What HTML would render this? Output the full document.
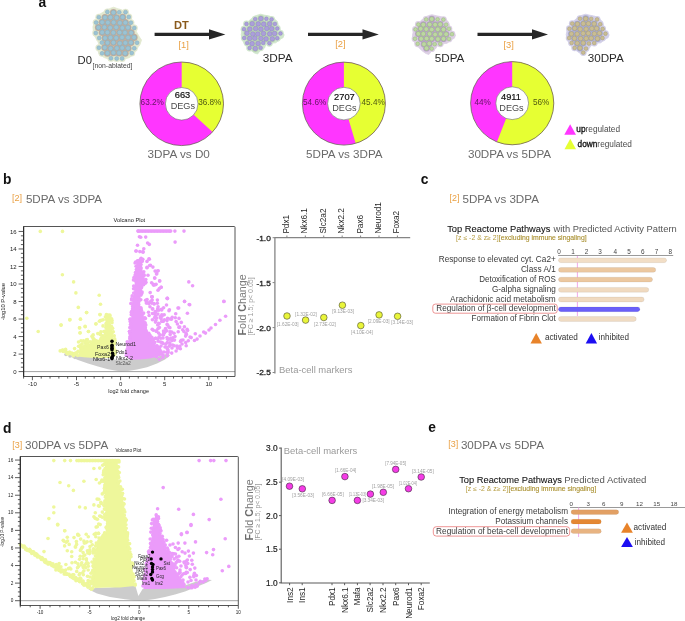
<!DOCTYPE html>
<html><head><meta charset="utf-8"><style>
html,body{margin:0;padding:0;background:#fff;}
body{width:685px;height:621px;overflow:hidden;}
svg{display:block;font-family:"Liberation Sans",sans-serif;will-change:transform;}
</style></head><body>
<svg width="685" height="621" viewBox="0 0 685 621">
<rect width="685" height="621" fill="#fff"/>
<text x="38.60" y="7.30" font-size="13.8" fill="#111" font-weight="bold" >a</text>
<polygon points="113.8,7.2 118.9,9.2 124.1,10.8 128.2,13.9 131.3,20.6 134.4,25.7 136.5,31.9 139.5,37.1 141.6,40.1 139.5,45.3 136.5,49.4 133.4,54.6 129.2,57.7 122.0,59.7 116.9,60.2 110.7,59.7 104.5,57.7 99.3,54.6 97.8,50.5 99.3,45.3 97.3,40.1 93.7,35.0 92.9,26.7 95.2,20.6 99.3,14.4 105.5,10.8 110.7,8.2" fill="#e2e8cf" stroke="#e2e8cf" stroke-width="0.8" stroke-linejoin="round"/>
<g fill="#e2e8cf">
<circle cx="107.38" cy="11.92" r="3.50"/>
<circle cx="113.43" cy="12.55" r="3.85"/>
<circle cx="119.21" cy="12.34" r="3.50"/>
<circle cx="125.52" cy="12.15" r="3.50"/>
<circle cx="98.81" cy="17.19" r="3.50"/>
<circle cx="105.01" cy="17.55" r="3.85"/>
<circle cx="110.42" cy="17.44" r="3.85"/>
<circle cx="116.57" cy="17.71" r="3.85"/>
<circle cx="122.65" cy="17.18" r="3.85"/>
<circle cx="128.78" cy="17.03" r="3.50"/>
<circle cx="96.14" cy="22.55" r="3.50"/>
<circle cx="102.14" cy="22.32" r="3.85"/>
<circle cx="107.87" cy="22.57" r="3.85"/>
<circle cx="113.67" cy="22.44" r="3.85"/>
<circle cx="119.80" cy="22.88" r="3.85"/>
<circle cx="125.38" cy="22.63" r="3.85"/>
<circle cx="130.90" cy="22.66" r="3.50"/>
<circle cx="98.42" cy="27.56" r="3.85"/>
<circle cx="104.45" cy="27.25" r="3.85"/>
<circle cx="110.25" cy="27.83" r="3.85"/>
<circle cx="116.21" cy="27.37" r="3.85"/>
<circle cx="122.35" cy="27.93" r="3.85"/>
<circle cx="127.97" cy="27.55" r="3.85"/>
<circle cx="134.29" cy="27.94" r="3.50"/>
<circle cx="95.77" cy="33.05" r="3.50"/>
<circle cx="102.21" cy="32.39" r="3.85"/>
<circle cx="107.41" cy="32.46" r="3.85"/>
<circle cx="113.36" cy="32.69" r="3.85"/>
<circle cx="119.58" cy="32.49" r="3.85"/>
<circle cx="124.95" cy="32.63" r="3.85"/>
<circle cx="131.18" cy="32.76" r="3.85"/>
<circle cx="99.21" cy="38.06" r="3.50"/>
<circle cx="105.09" cy="38.08" r="3.85"/>
<circle cx="110.55" cy="37.72" r="3.85"/>
<circle cx="116.19" cy="37.93" r="3.85"/>
<circle cx="122.05" cy="37.42" r="3.85"/>
<circle cx="128.09" cy="37.51" r="3.85"/>
<circle cx="134.10" cy="37.41" r="3.85"/>
<circle cx="101.90" cy="42.60" r="3.50"/>
<circle cx="107.48" cy="42.78" r="3.85"/>
<circle cx="113.48" cy="42.58" r="3.85"/>
<circle cx="119.81" cy="43.36" r="3.85"/>
<circle cx="125.37" cy="42.91" r="3.85"/>
<circle cx="130.93" cy="42.56" r="3.85"/>
<circle cx="137.06" cy="42.71" r="3.50"/>
<circle cx="98.87" cy="47.71" r="3.50"/>
<circle cx="104.79" cy="47.60" r="3.85"/>
<circle cx="110.67" cy="48.46" r="3.85"/>
<circle cx="116.88" cy="48.21" r="3.85"/>
<circle cx="122.23" cy="47.91" r="3.85"/>
<circle cx="128.05" cy="48.27" r="3.85"/>
<circle cx="134.28" cy="48.28" r="3.50"/>
<circle cx="102.08" cy="53.36" r="3.50"/>
<circle cx="107.45" cy="53.16" r="3.85"/>
<circle cx="113.47" cy="52.72" r="3.85"/>
<circle cx="119.07" cy="52.94" r="3.85"/>
<circle cx="125.18" cy="53.31" r="3.85"/>
<circle cx="131.71" cy="53.09" r="3.50"/>
<circle cx="110.95" cy="58.23" r="3.50"/>
<circle cx="116.69" cy="58.52" r="3.50"/>
<circle cx="122.07" cy="58.39" r="3.50"/>
</g>
<g fill="#c0ae9e">
<circle cx="113.43" cy="12.55" r="3.54"/>
<circle cx="105.01" cy="17.55" r="3.54"/>
<circle cx="110.42" cy="17.44" r="3.54"/>
<circle cx="116.57" cy="17.71" r="3.54"/>
<circle cx="122.65" cy="17.18" r="3.54"/>
<circle cx="102.14" cy="22.32" r="3.54"/>
<circle cx="107.87" cy="22.57" r="3.54"/>
<circle cx="113.67" cy="22.44" r="3.54"/>
<circle cx="119.80" cy="22.88" r="3.54"/>
<circle cx="125.38" cy="22.63" r="3.54"/>
<circle cx="98.42" cy="27.56" r="3.54"/>
<circle cx="104.45" cy="27.25" r="3.54"/>
<circle cx="110.25" cy="27.83" r="3.54"/>
<circle cx="116.21" cy="27.37" r="3.54"/>
<circle cx="122.35" cy="27.93" r="3.54"/>
<circle cx="127.97" cy="27.55" r="3.54"/>
<circle cx="102.21" cy="32.39" r="3.54"/>
<circle cx="107.41" cy="32.46" r="3.54"/>
<circle cx="113.36" cy="32.69" r="3.54"/>
<circle cx="119.58" cy="32.49" r="3.54"/>
<circle cx="124.95" cy="32.63" r="3.54"/>
<circle cx="131.18" cy="32.76" r="3.54"/>
<circle cx="105.09" cy="38.08" r="3.54"/>
<circle cx="110.55" cy="37.72" r="3.54"/>
<circle cx="116.19" cy="37.93" r="3.54"/>
<circle cx="122.05" cy="37.42" r="3.54"/>
<circle cx="128.09" cy="37.51" r="3.54"/>
<circle cx="134.10" cy="37.41" r="3.54"/>
<circle cx="107.48" cy="42.78" r="3.54"/>
<circle cx="113.48" cy="42.58" r="3.54"/>
<circle cx="119.81" cy="43.36" r="3.54"/>
<circle cx="125.37" cy="42.91" r="3.54"/>
<circle cx="130.93" cy="42.56" r="3.54"/>
<circle cx="104.79" cy="47.60" r="3.54"/>
<circle cx="110.67" cy="48.46" r="3.54"/>
<circle cx="116.88" cy="48.21" r="3.54"/>
<circle cx="122.23" cy="47.91" r="3.54"/>
<circle cx="128.05" cy="48.27" r="3.54"/>
<circle cx="107.45" cy="53.16" r="3.54"/>
<circle cx="113.47" cy="52.72" r="3.54"/>
<circle cx="119.07" cy="52.94" r="3.54"/>
<circle cx="125.18" cy="53.31" r="3.54"/>
</g>
<g fill="#9ac3d4" stroke="#86aabb" stroke-width="0.45">
<circle cx="107.38" cy="11.92" r="2.00"/>
<circle cx="113.43" cy="12.55" r="2.35"/>
<circle cx="119.21" cy="12.34" r="2.00"/>
<circle cx="125.52" cy="12.15" r="2.00"/>
<circle cx="98.81" cy="17.19" r="2.00"/>
<circle cx="105.01" cy="17.55" r="2.35"/>
<circle cx="110.42" cy="17.44" r="2.35"/>
<circle cx="116.57" cy="17.71" r="2.35"/>
<circle cx="122.65" cy="17.18" r="2.35"/>
<circle cx="128.78" cy="17.03" r="2.00"/>
<circle cx="96.14" cy="22.55" r="2.00"/>
<circle cx="102.14" cy="22.32" r="2.35"/>
<circle cx="107.87" cy="22.57" r="2.35"/>
<circle cx="113.67" cy="22.44" r="2.35"/>
<circle cx="119.80" cy="22.88" r="2.35"/>
<circle cx="125.38" cy="22.63" r="2.35"/>
<circle cx="130.90" cy="22.66" r="2.00"/>
<circle cx="98.42" cy="27.56" r="2.35"/>
<circle cx="104.45" cy="27.25" r="2.35"/>
<circle cx="110.25" cy="27.83" r="2.35"/>
<circle cx="116.21" cy="27.37" r="2.35"/>
<circle cx="122.35" cy="27.93" r="2.35"/>
<circle cx="127.97" cy="27.55" r="2.35"/>
<circle cx="134.29" cy="27.94" r="2.00"/>
<circle cx="95.77" cy="33.05" r="2.00"/>
<circle cx="102.21" cy="32.39" r="2.35"/>
<circle cx="107.41" cy="32.46" r="2.35"/>
<circle cx="113.36" cy="32.69" r="2.35"/>
<circle cx="119.58" cy="32.49" r="2.35"/>
<circle cx="124.95" cy="32.63" r="2.35"/>
<circle cx="131.18" cy="32.76" r="2.35"/>
<circle cx="99.21" cy="38.06" r="2.00"/>
<circle cx="105.09" cy="38.08" r="2.35"/>
<circle cx="110.55" cy="37.72" r="2.35"/>
<circle cx="116.19" cy="37.93" r="2.35"/>
<circle cx="122.05" cy="37.42" r="2.35"/>
<circle cx="128.09" cy="37.51" r="2.35"/>
<circle cx="134.10" cy="37.41" r="2.35"/>
<circle cx="101.90" cy="42.60" r="2.00"/>
<circle cx="107.48" cy="42.78" r="2.35"/>
<circle cx="113.48" cy="42.58" r="2.35"/>
<circle cx="119.81" cy="43.36" r="2.35"/>
<circle cx="125.37" cy="42.91" r="2.35"/>
<circle cx="130.93" cy="42.56" r="2.35"/>
<circle cx="137.06" cy="42.71" r="2.00"/>
<circle cx="98.87" cy="47.71" r="2.00"/>
<circle cx="104.79" cy="47.60" r="2.35"/>
<circle cx="110.67" cy="48.46" r="2.35"/>
<circle cx="116.88" cy="48.21" r="2.35"/>
<circle cx="122.23" cy="47.91" r="2.35"/>
<circle cx="128.05" cy="48.27" r="2.35"/>
<circle cx="134.28" cy="48.28" r="2.00"/>
<circle cx="102.08" cy="53.36" r="2.00"/>
<circle cx="107.45" cy="53.16" r="2.35"/>
<circle cx="113.47" cy="52.72" r="2.35"/>
<circle cx="119.07" cy="52.94" r="2.35"/>
<circle cx="125.18" cy="53.31" r="2.35"/>
<circle cx="131.71" cy="53.09" r="2.00"/>
<circle cx="110.95" cy="58.23" r="2.00"/>
<circle cx="116.69" cy="58.52" r="2.00"/>
<circle cx="122.07" cy="58.39" r="2.00"/>
</g>
<polygon points="260.7,14.2 264.7,15.2 269.9,16.2 273.9,18.3 277.0,21.3 278.5,26.5 281.1,31.6 284.2,34.6 283.1,37.7 279.0,39.7 276.0,42.8 270.9,43.3 265.8,44.3 264.7,47.9 260.7,50.0 257.6,54.0 254.5,53.0 250.4,50.0 247.4,46.9 244.3,43.8 242.3,39.7 241.2,34.6 242.3,29.5 245.3,24.4 249.4,20.3 254.5,16.2 258.6,14.7" fill="#d0e6cc" stroke="#d0e6cc" stroke-width="0.8" stroke-linejoin="round"/>
<g fill="#d0e6cc">
<circle cx="255.24" cy="19.08" r="3.40"/>
<circle cx="260.86" cy="18.61" r="3.80"/>
<circle cx="266.39" cy="18.76" r="3.40"/>
<circle cx="271.59" cy="19.32" r="3.40"/>
<circle cx="246.49" cy="23.95" r="3.40"/>
<circle cx="252.21" cy="23.70" r="3.80"/>
<circle cx="258.29" cy="23.90" r="3.80"/>
<circle cx="263.70" cy="24.13" r="3.80"/>
<circle cx="269.61" cy="23.84" r="3.80"/>
<circle cx="274.94" cy="23.90" r="3.40"/>
<circle cx="244.02" cy="29.14" r="3.40"/>
<circle cx="249.82" cy="29.08" r="3.80"/>
<circle cx="255.64" cy="28.53" r="3.80"/>
<circle cx="260.89" cy="29.14" r="3.80"/>
<circle cx="266.75" cy="28.42" r="3.80"/>
<circle cx="271.70" cy="28.69" r="3.80"/>
<circle cx="277.26" cy="28.51" r="3.40"/>
<circle cx="246.98" cy="33.27" r="3.80"/>
<circle cx="252.79" cy="34.02" r="3.80"/>
<circle cx="257.79" cy="34.00" r="3.80"/>
<circle cx="263.55" cy="33.58" r="3.80"/>
<circle cx="269.68" cy="33.89" r="3.80"/>
<circle cx="274.54" cy="33.53" r="3.80"/>
<circle cx="280.45" cy="33.45" r="3.40"/>
<circle cx="244.24" cy="38.01" r="3.40"/>
<circle cx="249.69" cy="38.39" r="3.80"/>
<circle cx="254.81" cy="38.29" r="3.80"/>
<circle cx="260.95" cy="38.46" r="3.80"/>
<circle cx="266.05" cy="38.88" r="3.80"/>
<circle cx="272.30" cy="38.87" r="3.80"/>
<circle cx="277.28" cy="38.23" r="3.40"/>
<circle cx="247.13" cy="43.08" r="3.40"/>
<circle cx="252.12" cy="43.67" r="3.80"/>
<circle cx="258.10" cy="43.47" r="3.80"/>
<circle cx="263.27" cy="42.90" r="3.40"/>
<circle cx="269.41" cy="43.23" r="3.40"/>
<circle cx="249.60" cy="48.00" r="3.40"/>
<circle cx="255.29" cy="48.53" r="3.80"/>
<circle cx="260.63" cy="47.81" r="3.40"/>
</g>
<g fill="#b8d2b2">
<circle cx="260.86" cy="18.61" r="3.36"/>
<circle cx="252.21" cy="23.70" r="3.36"/>
<circle cx="258.29" cy="23.90" r="3.36"/>
<circle cx="263.70" cy="24.13" r="3.36"/>
<circle cx="269.61" cy="23.84" r="3.36"/>
<circle cx="249.82" cy="29.08" r="3.36"/>
<circle cx="255.64" cy="28.53" r="3.36"/>
<circle cx="260.89" cy="29.14" r="3.36"/>
<circle cx="266.75" cy="28.42" r="3.36"/>
<circle cx="271.70" cy="28.69" r="3.36"/>
<circle cx="246.98" cy="33.27" r="3.36"/>
<circle cx="252.79" cy="34.02" r="3.36"/>
<circle cx="257.79" cy="34.00" r="3.36"/>
<circle cx="263.55" cy="33.58" r="3.36"/>
<circle cx="269.68" cy="33.89" r="3.36"/>
<circle cx="274.54" cy="33.53" r="3.36"/>
<circle cx="249.69" cy="38.39" r="3.36"/>
<circle cx="254.81" cy="38.29" r="3.36"/>
<circle cx="260.95" cy="38.46" r="3.36"/>
<circle cx="266.05" cy="38.88" r="3.36"/>
<circle cx="272.30" cy="38.87" r="3.36"/>
<circle cx="252.12" cy="43.67" r="3.36"/>
<circle cx="258.10" cy="43.47" r="3.36"/>
<circle cx="255.29" cy="48.53" r="3.36"/>
</g>
<g fill="#ab9edb" stroke="#8e82c2" stroke-width="0.45">
<circle cx="255.24" cy="19.08" r="1.90"/>
<circle cx="260.86" cy="18.61" r="2.30"/>
<circle cx="266.39" cy="18.76" r="1.90"/>
<circle cx="271.59" cy="19.32" r="1.90"/>
<circle cx="246.49" cy="23.95" r="1.90"/>
<circle cx="252.21" cy="23.70" r="2.30"/>
<circle cx="258.29" cy="23.90" r="2.30"/>
<circle cx="263.70" cy="24.13" r="2.30"/>
<circle cx="269.61" cy="23.84" r="2.30"/>
<circle cx="274.94" cy="23.90" r="1.90"/>
<circle cx="244.02" cy="29.14" r="1.90"/>
<circle cx="249.82" cy="29.08" r="2.30"/>
<circle cx="255.64" cy="28.53" r="2.30"/>
<circle cx="260.89" cy="29.14" r="2.30"/>
<circle cx="266.75" cy="28.42" r="2.30"/>
<circle cx="271.70" cy="28.69" r="2.30"/>
<circle cx="277.26" cy="28.51" r="1.90"/>
<circle cx="246.98" cy="33.27" r="2.30"/>
<circle cx="252.79" cy="34.02" r="2.30"/>
<circle cx="257.79" cy="34.00" r="2.30"/>
<circle cx="263.55" cy="33.58" r="2.30"/>
<circle cx="269.68" cy="33.89" r="2.30"/>
<circle cx="274.54" cy="33.53" r="2.30"/>
<circle cx="280.45" cy="33.45" r="1.90"/>
<circle cx="244.24" cy="38.01" r="1.90"/>
<circle cx="249.69" cy="38.39" r="2.30"/>
<circle cx="254.81" cy="38.29" r="2.30"/>
<circle cx="260.95" cy="38.46" r="2.30"/>
<circle cx="266.05" cy="38.88" r="2.30"/>
<circle cx="272.30" cy="38.87" r="2.30"/>
<circle cx="277.28" cy="38.23" r="1.90"/>
<circle cx="247.13" cy="43.08" r="1.90"/>
<circle cx="252.12" cy="43.67" r="2.30"/>
<circle cx="258.10" cy="43.47" r="2.30"/>
<circle cx="263.27" cy="42.90" r="1.90"/>
<circle cx="269.41" cy="43.23" r="1.90"/>
<circle cx="249.60" cy="48.00" r="1.90"/>
<circle cx="255.29" cy="48.53" r="2.30"/>
<circle cx="260.63" cy="47.81" r="1.90"/>
</g>
<polygon points="432.0,14.7 436.0,15.7 441.2,16.7 445.2,18.8 448.3,21.8 449.8,27.0 452.4,32.1 455.5,35.1 454.4,38.2 450.3,40.2 447.3,43.3 442.2,43.8 437.1,44.8 436.0,48.4 432.0,50.5 428.9,54.5 425.8,53.5 421.7,50.5 418.7,47.4 415.6,44.3 413.6,40.2 412.5,35.1 413.6,30.0 416.6,24.9 420.7,20.8 425.8,16.7 429.9,15.2" fill="#dccfe4" stroke="#dccfe4" stroke-width="0.8" stroke-linejoin="round"/>
<g fill="#dccfe4">
<circle cx="426.17" cy="19.46" r="3.40"/>
<circle cx="431.73" cy="19.12" r="3.80"/>
<circle cx="437.56" cy="19.31" r="3.40"/>
<circle cx="443.42" cy="19.57" r="3.40"/>
<circle cx="418.34" cy="24.52" r="3.40"/>
<circle cx="423.33" cy="24.70" r="3.80"/>
<circle cx="429.69" cy="24.51" r="3.80"/>
<circle cx="435.15" cy="24.68" r="3.80"/>
<circle cx="440.22" cy="24.42" r="3.80"/>
<circle cx="446.14" cy="24.70" r="3.40"/>
<circle cx="415.51" cy="29.42" r="3.40"/>
<circle cx="420.70" cy="28.82" r="3.80"/>
<circle cx="426.21" cy="29.12" r="3.80"/>
<circle cx="431.78" cy="29.55" r="3.80"/>
<circle cx="437.79" cy="29.36" r="3.80"/>
<circle cx="443.45" cy="29.41" r="3.80"/>
<circle cx="448.93" cy="28.80" r="3.40"/>
<circle cx="418.35" cy="33.87" r="3.80"/>
<circle cx="423.36" cy="33.88" r="3.80"/>
<circle cx="429.55" cy="33.83" r="3.80"/>
<circle cx="435.16" cy="34.52" r="3.80"/>
<circle cx="440.54" cy="33.99" r="3.80"/>
<circle cx="446.12" cy="34.26" r="3.80"/>
<circle cx="451.98" cy="34.20" r="3.40"/>
<circle cx="415.02" cy="38.72" r="3.40"/>
<circle cx="421.16" cy="38.77" r="3.80"/>
<circle cx="426.60" cy="38.51" r="3.80"/>
<circle cx="431.75" cy="38.74" r="3.80"/>
<circle cx="437.90" cy="39.12" r="3.80"/>
<circle cx="443.50" cy="38.76" r="3.80"/>
<circle cx="448.96" cy="38.91" r="3.40"/>
<circle cx="417.71" cy="43.76" r="3.40"/>
<circle cx="424.03" cy="44.22" r="3.80"/>
<circle cx="429.30" cy="43.59" r="3.80"/>
<circle cx="434.68" cy="44.20" r="3.40"/>
<circle cx="440.28" cy="43.87" r="3.40"/>
<circle cx="426.53" cy="48.22" r="3.80"/>
<circle cx="431.69" cy="48.64" r="3.40"/>
</g>
<g fill="#b9a3c9">
<circle cx="431.73" cy="19.12" r="3.36"/>
<circle cx="423.33" cy="24.70" r="3.36"/>
<circle cx="429.69" cy="24.51" r="3.36"/>
<circle cx="435.15" cy="24.68" r="3.36"/>
<circle cx="440.22" cy="24.42" r="3.36"/>
<circle cx="420.70" cy="28.82" r="3.36"/>
<circle cx="426.21" cy="29.12" r="3.36"/>
<circle cx="431.78" cy="29.55" r="3.36"/>
<circle cx="437.79" cy="29.36" r="3.36"/>
<circle cx="443.45" cy="29.41" r="3.36"/>
<circle cx="418.35" cy="33.87" r="3.36"/>
<circle cx="423.36" cy="33.88" r="3.36"/>
<circle cx="429.55" cy="33.83" r="3.36"/>
<circle cx="435.16" cy="34.52" r="3.36"/>
<circle cx="440.54" cy="33.99" r="3.36"/>
<circle cx="446.12" cy="34.26" r="3.36"/>
<circle cx="421.16" cy="38.77" r="3.36"/>
<circle cx="426.60" cy="38.51" r="3.36"/>
<circle cx="431.75" cy="38.74" r="3.36"/>
<circle cx="437.90" cy="39.12" r="3.36"/>
<circle cx="443.50" cy="38.76" r="3.36"/>
<circle cx="424.03" cy="44.22" r="3.36"/>
<circle cx="429.30" cy="43.59" r="3.36"/>
<circle cx="426.53" cy="48.22" r="3.36"/>
</g>
<g fill="#bcd8a0" stroke="#93b07e" stroke-width="0.45">
<circle cx="426.17" cy="19.46" r="1.90"/>
<circle cx="431.73" cy="19.12" r="2.30"/>
<circle cx="437.56" cy="19.31" r="1.90"/>
<circle cx="443.42" cy="19.57" r="1.90"/>
<circle cx="418.34" cy="24.52" r="1.90"/>
<circle cx="423.33" cy="24.70" r="2.30"/>
<circle cx="429.69" cy="24.51" r="2.30"/>
<circle cx="435.15" cy="24.68" r="2.30"/>
<circle cx="440.22" cy="24.42" r="2.30"/>
<circle cx="446.14" cy="24.70" r="1.90"/>
<circle cx="415.51" cy="29.42" r="1.90"/>
<circle cx="420.70" cy="28.82" r="2.30"/>
<circle cx="426.21" cy="29.12" r="2.30"/>
<circle cx="431.78" cy="29.55" r="2.30"/>
<circle cx="437.79" cy="29.36" r="2.30"/>
<circle cx="443.45" cy="29.41" r="2.30"/>
<circle cx="448.93" cy="28.80" r="1.90"/>
<circle cx="418.35" cy="33.87" r="2.30"/>
<circle cx="423.36" cy="33.88" r="2.30"/>
<circle cx="429.55" cy="33.83" r="2.30"/>
<circle cx="435.16" cy="34.52" r="2.30"/>
<circle cx="440.54" cy="33.99" r="2.30"/>
<circle cx="446.12" cy="34.26" r="2.30"/>
<circle cx="451.98" cy="34.20" r="1.90"/>
<circle cx="415.02" cy="38.72" r="1.90"/>
<circle cx="421.16" cy="38.77" r="2.30"/>
<circle cx="426.60" cy="38.51" r="2.30"/>
<circle cx="431.75" cy="38.74" r="2.30"/>
<circle cx="437.90" cy="39.12" r="2.30"/>
<circle cx="443.50" cy="38.76" r="2.30"/>
<circle cx="448.96" cy="38.91" r="1.90"/>
<circle cx="417.71" cy="43.76" r="1.90"/>
<circle cx="424.03" cy="44.22" r="2.30"/>
<circle cx="429.30" cy="43.59" r="2.30"/>
<circle cx="434.68" cy="44.20" r="1.90"/>
<circle cx="440.28" cy="43.87" r="1.90"/>
<circle cx="426.53" cy="48.22" r="2.30"/>
<circle cx="431.69" cy="48.64" r="1.90"/>
</g>
<polygon points="585.7,14.2 589.7,15.2 594.9,16.2 598.9,18.3 602.0,21.3 603.5,26.5 606.1,31.6 609.2,34.6 608.1,37.7 604.0,39.7 601.0,42.8 595.9,43.3 590.8,44.3 589.7,47.9 585.7,50.0 582.6,54.0 579.5,53.0 575.4,50.0 572.4,46.9 569.3,43.8 567.3,39.7 566.2,34.6 567.3,29.5 570.3,24.4 574.4,20.3 579.5,16.2 583.6,14.7" fill="#d2cfe8" stroke="#d2cfe8" stroke-width="0.8" stroke-linejoin="round"/>
<g fill="#d2cfe8">
<circle cx="579.96" cy="18.68" r="3.40"/>
<circle cx="585.70" cy="18.68" r="3.80"/>
<circle cx="591.21" cy="18.83" r="3.40"/>
<circle cx="597.10" cy="19.39" r="3.40"/>
<circle cx="572.26" cy="23.56" r="3.40"/>
<circle cx="577.44" cy="24.01" r="3.80"/>
<circle cx="583.37" cy="23.64" r="3.80"/>
<circle cx="588.43" cy="23.67" r="3.80"/>
<circle cx="594.15" cy="23.85" r="3.80"/>
<circle cx="600.25" cy="24.21" r="3.40"/>
<circle cx="569.40" cy="28.72" r="3.40"/>
<circle cx="574.72" cy="28.30" r="3.80"/>
<circle cx="580.14" cy="29.13" r="3.80"/>
<circle cx="586.13" cy="29.07" r="3.80"/>
<circle cx="591.87" cy="28.52" r="3.80"/>
<circle cx="596.69" cy="28.43" r="3.80"/>
<circle cx="602.66" cy="28.91" r="3.40"/>
<circle cx="571.43" cy="33.85" r="3.80"/>
<circle cx="577.20" cy="33.97" r="3.80"/>
<circle cx="583.17" cy="33.42" r="3.80"/>
<circle cx="588.31" cy="33.37" r="3.80"/>
<circle cx="594.36" cy="33.77" r="3.80"/>
<circle cx="599.49" cy="33.21" r="3.80"/>
<circle cx="605.46" cy="33.67" r="3.40"/>
<circle cx="569.13" cy="38.00" r="3.40"/>
<circle cx="574.46" cy="38.41" r="3.80"/>
<circle cx="580.65" cy="38.57" r="3.80"/>
<circle cx="586.19" cy="38.42" r="3.80"/>
<circle cx="591.20" cy="38.22" r="3.80"/>
<circle cx="597.46" cy="38.63" r="3.80"/>
<circle cx="602.47" cy="38.01" r="3.40"/>
<circle cx="571.59" cy="42.88" r="3.40"/>
<circle cx="577.29" cy="43.22" r="3.80"/>
<circle cx="583.20" cy="43.02" r="3.80"/>
<circle cx="588.91" cy="43.51" r="3.40"/>
<circle cx="594.24" cy="43.03" r="3.40"/>
<circle cx="574.64" cy="47.86" r="3.40"/>
<circle cx="579.99" cy="48.07" r="3.80"/>
<circle cx="585.99" cy="48.55" r="3.40"/>
<circle cx="583.26" cy="52.57" r="3.40"/>
</g>
<g fill="#a9acd0">
<circle cx="585.70" cy="18.68" r="3.36"/>
<circle cx="577.44" cy="24.01" r="3.36"/>
<circle cx="583.37" cy="23.64" r="3.36"/>
<circle cx="588.43" cy="23.67" r="3.36"/>
<circle cx="594.15" cy="23.85" r="3.36"/>
<circle cx="574.72" cy="28.30" r="3.36"/>
<circle cx="580.14" cy="29.13" r="3.36"/>
<circle cx="586.13" cy="29.07" r="3.36"/>
<circle cx="591.87" cy="28.52" r="3.36"/>
<circle cx="596.69" cy="28.43" r="3.36"/>
<circle cx="571.43" cy="33.85" r="3.36"/>
<circle cx="577.20" cy="33.97" r="3.36"/>
<circle cx="583.17" cy="33.42" r="3.36"/>
<circle cx="588.31" cy="33.37" r="3.36"/>
<circle cx="594.36" cy="33.77" r="3.36"/>
<circle cx="599.49" cy="33.21" r="3.36"/>
<circle cx="574.46" cy="38.41" r="3.36"/>
<circle cx="580.65" cy="38.57" r="3.36"/>
<circle cx="586.19" cy="38.42" r="3.36"/>
<circle cx="591.20" cy="38.22" r="3.36"/>
<circle cx="597.46" cy="38.63" r="3.36"/>
<circle cx="577.29" cy="43.22" r="3.36"/>
<circle cx="583.20" cy="43.02" r="3.36"/>
<circle cx="579.99" cy="48.07" r="3.36"/>
</g>
<g fill="#c9bd92" stroke="#a39870" stroke-width="0.45">
<circle cx="579.96" cy="18.68" r="1.90"/>
<circle cx="585.70" cy="18.68" r="2.30"/>
<circle cx="591.21" cy="18.83" r="1.90"/>
<circle cx="597.10" cy="19.39" r="1.90"/>
<circle cx="572.26" cy="23.56" r="1.90"/>
<circle cx="577.44" cy="24.01" r="2.30"/>
<circle cx="583.37" cy="23.64" r="2.30"/>
<circle cx="588.43" cy="23.67" r="2.30"/>
<circle cx="594.15" cy="23.85" r="2.30"/>
<circle cx="600.25" cy="24.21" r="1.90"/>
<circle cx="569.40" cy="28.72" r="1.90"/>
<circle cx="574.72" cy="28.30" r="2.30"/>
<circle cx="580.14" cy="29.13" r="2.30"/>
<circle cx="586.13" cy="29.07" r="2.30"/>
<circle cx="591.87" cy="28.52" r="2.30"/>
<circle cx="596.69" cy="28.43" r="2.30"/>
<circle cx="602.66" cy="28.91" r="1.90"/>
<circle cx="571.43" cy="33.85" r="2.30"/>
<circle cx="577.20" cy="33.97" r="2.30"/>
<circle cx="583.17" cy="33.42" r="2.30"/>
<circle cx="588.31" cy="33.37" r="2.30"/>
<circle cx="594.36" cy="33.77" r="2.30"/>
<circle cx="599.49" cy="33.21" r="2.30"/>
<circle cx="605.46" cy="33.67" r="1.90"/>
<circle cx="569.13" cy="38.00" r="1.90"/>
<circle cx="574.46" cy="38.41" r="2.30"/>
<circle cx="580.65" cy="38.57" r="2.30"/>
<circle cx="586.19" cy="38.42" r="2.30"/>
<circle cx="591.20" cy="38.22" r="2.30"/>
<circle cx="597.46" cy="38.63" r="2.30"/>
<circle cx="602.47" cy="38.01" r="1.90"/>
<circle cx="571.59" cy="42.88" r="1.90"/>
<circle cx="577.29" cy="43.22" r="2.30"/>
<circle cx="583.20" cy="43.02" r="2.30"/>
<circle cx="588.91" cy="43.51" r="1.90"/>
<circle cx="594.24" cy="43.03" r="1.90"/>
<circle cx="574.64" cy="47.86" r="1.90"/>
<circle cx="579.99" cy="48.07" r="2.30"/>
<circle cx="585.99" cy="48.55" r="1.90"/>
<circle cx="583.26" cy="52.57" r="1.90"/>
</g>
<text x="77.60" y="64.00" font-size="11.3" fill="#2a2a2a" textLength="14.4" lengthAdjust="spacingAndGlyphs" >D0</text>
<text x="92.60" y="67.60" font-size="6.8" fill="#444" textLength="39.8" lengthAdjust="spacingAndGlyphs" >[non-ablated]</text>
<text x="262.80" y="62.40" font-size="11.25" fill="#2a2a2a" textLength="29.9" lengthAdjust="spacingAndGlyphs" >3DPA</text>
<text x="434.80" y="61.70" font-size="11.25" fill="#2a2a2a" textLength="29.6" lengthAdjust="spacingAndGlyphs" >5DPA</text>
<text x="587.70" y="61.60" font-size="11.25" fill="#2a2a2a" textLength="36.1" lengthAdjust="spacingAndGlyphs" >30DPA</text>
<line x1="154.6" y1="34.4" x2="210.0" y2="34.4" stroke="#262626" stroke-width="3.4"/>
<polygon points="209.0,29.299999999999997 225.4,34.4 209.0,39.5" fill="#262626"/>
<line x1="308.0" y1="34.4" x2="363.5" y2="34.4" stroke="#262626" stroke-width="3.4"/>
<polygon points="362.5,29.299999999999997 378.8,34.4 362.5,39.5" fill="#262626"/>
<line x1="477.5" y1="34.4" x2="533.0" y2="34.4" stroke="#262626" stroke-width="3.4"/>
<polygon points="532.0,29.299999999999997 548.0,34.4 532.0,39.5" fill="#262626"/>
<text x="174.00" y="28.60" font-size="11" fill="#8a5a1c" font-weight="bold" textLength="14.8" lengthAdjust="spacingAndGlyphs" >DT</text>
<text x="178.40" y="48.20" font-size="8.6" fill="#eaa145" textLength="10.4" lengthAdjust="spacingAndGlyphs" >[1]</text>
<text x="335.20" y="47.20" font-size="8.6" fill="#eaa145" textLength="10.4" lengthAdjust="spacingAndGlyphs" >[2]</text>
<text x="503.50" y="47.60" font-size="8.6" fill="#eaa145" textLength="10.4" lengthAdjust="spacingAndGlyphs" >[3]</text>
<circle cx="181.7" cy="103.8" r="41.8" fill="#ff36ff"/>
<path d="M181.7,103.8 L181.7,62.0 A41.8,41.8 0 0 1 212.53,132.03 Z" fill="#e6ff33"/>
<circle cx="181.7" cy="103.8" r="41.8" fill="none" stroke="#5a5a48" stroke-width="0.7"/>
<circle cx="181.7" cy="103.8" r="16.3" fill="#fff" stroke="#6a6a6a" stroke-width="0.6"/>
<text x="182.50" y="98.40" font-size="9.3" fill="#111" text-anchor="middle" stroke="#111" stroke-width="0.2">663</text>
<text x="182.85" y="109.30" font-size="9.5" fill="#4a4a4a" text-anchor="middle" textLength="24.4" lengthAdjust="spacingAndGlyphs" >DEGs</text>
<text x="140.60" y="104.60" font-size="8.2" fill="#000" fill-opacity="0.62">63.2%</text>
<text x="198.20" y="104.60" font-size="8.2" fill="#000" fill-opacity="0.68">36.8%</text>
<circle cx="343.9" cy="103.6" r="41.5" fill="#ff36ff"/>
<path d="M343.9,103.6 L343.9,62.099999999999994 A41.5,41.5 0 0 1 355.73,143.38 Z" fill="#e6ff33"/>
<circle cx="343.9" cy="103.6" r="41.5" fill="none" stroke="#5a5a48" stroke-width="0.7"/>
<circle cx="343.9" cy="103.6" r="16.3" fill="#fff" stroke="#6a6a6a" stroke-width="0.6"/>
<text x="344.40" y="99.90" font-size="9.3" fill="#111" text-anchor="middle" stroke="#111" stroke-width="0.2">2707</text>
<text x="344.40" y="110.90" font-size="9.5" fill="#4a4a4a" text-anchor="middle" textLength="24.4" lengthAdjust="spacingAndGlyphs" >DEGs</text>
<text x="303.00" y="105.20" font-size="8.2" fill="#000" fill-opacity="0.62">54.6%</text>
<text x="361.50" y="105.20" font-size="8.2" fill="#000" fill-opacity="0.68">45.4%</text>
<circle cx="512.2" cy="103.2" r="41.6" fill="#ff36ff"/>
<path d="M512.2,103.2 L512.2,61.6 A41.6,41.6 0 1 1 496.89,141.88 Z" fill="#e6ff33"/>
<circle cx="512.2" cy="103.2" r="41.6" fill="none" stroke="#5a5a48" stroke-width="0.7"/>
<circle cx="512.2" cy="103.2" r="16.4" fill="#fff" stroke="#6a6a6a" stroke-width="0.6"/>
<text x="511.00" y="99.90" font-size="9.3" fill="#111" text-anchor="middle" stroke="#111" stroke-width="0.2">4911</text>
<text x="511.50" y="110.90" font-size="9.5" fill="#4a4a4a" text-anchor="middle" textLength="24.4" lengthAdjust="spacingAndGlyphs" >DEGs</text>
<text x="474.40" y="104.70" font-size="8.2" fill="#000" fill-opacity="0.62">44%</text>
<text x="533.00" y="104.70" font-size="8.2" fill="#000" fill-opacity="0.68">56%</text>
<text x="147.60" y="157.70" font-size="11.3" fill="#6a6a6a" textLength="62.3" lengthAdjust="spacingAndGlyphs" >3DPA vs D0</text>
<text x="306.10" y="157.80" font-size="11.3" fill="#6a6a6a" textLength="76.5" lengthAdjust="spacingAndGlyphs" >5DPA vs 3DPA</text>
<text x="467.90" y="157.50" font-size="11.3" fill="#6a6a6a" textLength="83.2" lengthAdjust="spacingAndGlyphs" >30DPA vs 5DPA</text>
<polygon points="564.3,134.7 570.15,124.2 576.0,134.7" fill="#ff36ff"/>
<polygon points="564.5,149.2 570.25,138.7 576.0,149.2" fill="#e6ff33"/>
<text x="576.30" y="131.80" font-size="8.2" fill="#4a4a4a" textLength="43.8" lengthAdjust="spacingAndGlyphs" ><tspan fill="#111" stroke="#111" stroke-width="0.3">up</tspan>regulated</text>
<text x="577.60" y="146.50" font-size="8.2" fill="#4a4a4a" textLength="54.3" lengthAdjust="spacingAndGlyphs" ><tspan fill="#111" stroke="#111" stroke-width="0.3">down</tspan>regulated</text>
<text x="3.00" y="184.00" font-size="13.8" fill="#111" font-weight="bold" >b</text>
<text x="11.90" y="201.00" font-size="8.6" fill="#eaa145" textLength="10.2" lengthAdjust="spacingAndGlyphs" >[2]</text>
<text x="25.90" y="203.10" font-size="11.3" fill="#6a6a6a" textLength="76.2" lengthAdjust="spacingAndGlyphs" >5DPA vs 3DPA</text>
<polygon points="70.0,356.5 78.0,360.0 88.0,363.5 98.0,366.5 108.0,369.2 115.0,370.6 121.0,371.4 128.0,371.0 137.0,369.6 147.0,367.2 157.0,363.5 165.0,359.5 170.0,355.5 168.0,353.5 160.0,356.0 150.0,357.5 140.0,358.5 128.0,359.5 120.0,359.8 112.0,359.5 100.0,357.8 88.0,357.0 77.0,356.0" fill="#cccccc" />
<g fill="#cccccc">
<circle cx="70.0" cy="356.0" r="1.8"/>
<circle cx="66.0" cy="354.5" r="1.8"/>
<circle cx="75.0" cy="357.5" r="1.8"/>
</g>
<polygon points="105.1,315.6 110.7,316.1 111.2,319.2 110.7,323.3 111.7,327.4 112.2,331.5 113.2,335.5 113.8,340.7 114.3,345.8 114.8,352.9 114.3,357.0 112.2,358.0 101.0,358.0 90.8,357.8 83.6,357.2 78.5,356.5 75.4,355.7 71.3,354.1 67.3,352.7 62.2,351.4 60.1,350.7 61.1,349.3 65.2,349.9 68.3,351.4 73.4,353.4 78.5,355.0 79.5,352.9 79.0,347.3 81.6,345.8 84.6,344.7 86.7,340.7 89.7,343.7 92.8,340.7 94.9,339.6 97.9,340.7 102.0,338.6 105.1,335.5 105.1,331.5 106.1,326.3 105.6,320.2" fill="#eef79b" />
<g fill="#eef79b">
<circle cx="106.4" cy="314.6" r="1.8"/>
<circle cx="106.5" cy="317.3" r="1.8"/>
<circle cx="109.8" cy="315.1" r="1.8"/>
<circle cx="111.6" cy="318.8" r="1.8"/>
<circle cx="112.0" cy="320.5" r="1.8"/>
<circle cx="112.0" cy="322.8" r="1.8"/>
<circle cx="111.5" cy="326.5" r="1.8"/>
<circle cx="112.2" cy="328.6" r="1.8"/>
<circle cx="112.6" cy="328.2" r="1.8"/>
<circle cx="113.3" cy="331.7" r="1.8"/>
<circle cx="112.2" cy="332.6" r="1.8"/>
<circle cx="114.2" cy="335.8" r="1.8"/>
<circle cx="114.7" cy="338.9" r="1.8"/>
<circle cx="115.0" cy="340.8" r="1.8"/>
<circle cx="114.6" cy="343.5" r="1.8"/>
<circle cx="113.6" cy="347.0" r="1.8"/>
<circle cx="113.9" cy="348.9" r="1.8"/>
<circle cx="115.9" cy="351.0" r="1.8"/>
<circle cx="113.8" cy="353.8" r="1.8"/>
<circle cx="115.0" cy="354.1" r="1.8"/>
<circle cx="74.6" cy="354.4" r="1.8"/>
<circle cx="73.5" cy="355.7" r="1.8"/>
<circle cx="71.8" cy="353.3" r="1.8"/>
<circle cx="69.8" cy="352.2" r="1.8"/>
<circle cx="67.0" cy="353.6" r="1.8"/>
<circle cx="65.9" cy="351.9" r="1.8"/>
<circle cx="63.1" cy="351.4" r="1.8"/>
<circle cx="60.2" cy="350.9" r="1.8"/>
<circle cx="62.5" cy="350.0" r="1.8"/>
<circle cx="63.1" cy="350.2" r="1.8"/>
<circle cx="65.6" cy="349.4" r="1.8"/>
<circle cx="69.1" cy="352.3" r="1.8"/>
<circle cx="71.1" cy="353.6" r="1.8"/>
<circle cx="72.0" cy="353.4" r="1.8"/>
<circle cx="76.3" cy="353.7" r="1.8"/>
<circle cx="77.6" cy="355.5" r="1.8"/>
<circle cx="79.3" cy="352.3" r="1.8"/>
<circle cx="78.0" cy="351.4" r="1.8"/>
<circle cx="78.6" cy="346.2" r="1.8"/>
<circle cx="80.8" cy="345.1" r="1.8"/>
<circle cx="85.7" cy="343.8" r="1.8"/>
<circle cx="85.0" cy="341.6" r="1.8"/>
<circle cx="86.6" cy="339.8" r="1.8"/>
<circle cx="87.8" cy="342.8" r="1.8"/>
<circle cx="90.9" cy="344.7" r="1.8"/>
<circle cx="90.0" cy="341.8" r="1.8"/>
<circle cx="93.8" cy="339.3" r="1.8"/>
<circle cx="94.0" cy="339.6" r="1.8"/>
<circle cx="97.6" cy="341.4" r="1.8"/>
<circle cx="100.6" cy="339.5" r="1.8"/>
<circle cx="101.3" cy="337.9" r="1.8"/>
<circle cx="102.9" cy="335.9" r="1.8"/>
<circle cx="105.5" cy="334.6" r="1.8"/>
<circle cx="106.2" cy="333.9" r="1.8"/>
<circle cx="103.8" cy="331.5" r="1.8"/>
<circle cx="105.9" cy="327.6" r="1.8"/>
<circle cx="106.1" cy="325.0" r="1.8"/>
<circle cx="106.7" cy="322.9" r="1.8"/>
<circle cx="106.1" cy="323.6" r="1.8"/>
<circle cx="106.6" cy="319.5" r="1.8"/>
<circle cx="105.4" cy="316.9" r="1.8"/>
</g>
<g fill="#eef79b">
<circle cx="73.6" cy="281.9" r="1.8"/>
<circle cx="75.9" cy="292.9" r="1.8"/>
<circle cx="99.2" cy="295.3" r="1.8"/>
<circle cx="100.5" cy="304.2" r="1.8"/>
<circle cx="78.3" cy="307.4" r="1.8"/>
<circle cx="86.5" cy="312.5" r="1.8"/>
<circle cx="100.0" cy="314.6" r="1.8"/>
<circle cx="26.8" cy="318.3" r="1.8"/>
<circle cx="69.9" cy="319.6" r="1.8"/>
<circle cx="80.4" cy="319.0" r="1.8"/>
<circle cx="61.0" cy="325.1" r="1.8"/>
<circle cx="38.2" cy="331.5" r="1.8"/>
<circle cx="79.6" cy="327.8" r="1.8"/>
<circle cx="85.2" cy="326.7" r="1.8"/>
<circle cx="96.0" cy="323.8" r="1.8"/>
<circle cx="80.1" cy="332.8" r="1.8"/>
<circle cx="88.4" cy="331.5" r="1.8"/>
<circle cx="98.1" cy="333.6" r="1.8"/>
<circle cx="100.5" cy="334.4" r="1.8"/>
<circle cx="92.1" cy="336.4" r="1.8"/>
<circle cx="87.2" cy="339.9" r="1.8"/>
<circle cx="94.6" cy="340.5" r="1.8"/>
<circle cx="86.7" cy="312.6" r="1.8"/>
<circle cx="100.0" cy="314.6" r="1.8"/>
<circle cx="69.8" cy="319.9" r="1.8"/>
<circle cx="80.5" cy="319.2" r="1.8"/>
<circle cx="61.1" cy="325.1" r="1.8"/>
<circle cx="95.9" cy="324.0" r="1.8"/>
<circle cx="85.1" cy="326.4" r="1.8"/>
<circle cx="79.5" cy="327.9" r="1.8"/>
<circle cx="88.5" cy="331.5" r="1.8"/>
<circle cx="80.0" cy="333.0" r="1.8"/>
<circle cx="92.3" cy="336.4" r="1.8"/>
<circle cx="97.9" cy="333.5" r="1.8"/>
<circle cx="100.5" cy="334.5" r="1.8"/>
<circle cx="87.2" cy="339.6" r="1.8"/>
<circle cx="95.9" cy="340.7" r="1.8"/>
<circle cx="87.7" cy="345.3" r="1.8"/>
<circle cx="40.3" cy="231.4" r="1.8"/>
<circle cx="62.5" cy="231.4" r="1.8"/>
<circle cx="62.4" cy="274.8" r="1.8"/>
<circle cx="108.0" cy="315.0" r="1.8"/>
<circle cx="110.0" cy="316.0" r="1.8"/>
</g>
<polygon points="137.5,259.5 142.5,259.5 141.5,267.4 144.0,274.2 145.5,281.9 141.5,286.7 142.2,291.5 139.8,298.3 140.0,305.0 143.5,315.0 146.5,328.0 150.0,336.0 156.0,345.0 161.0,351.0 162.0,355.5 150.0,358.5 140.0,359.5 130.0,359.8 127.0,357.0 127.5,345.0 130.0,332.0 131.2,318.0 131.8,305.0 132.6,298.0 134.0,292.5 134.6,284.8 135.0,277.0 135.5,269.3 136.5,261.6" fill="#eb9bfa" />
<g fill="#eb9bfa">
<circle cx="138.7" cy="260.8" r="1.8"/>
<circle cx="141.1" cy="258.3" r="1.8"/>
<circle cx="142.8" cy="259.3" r="1.8"/>
<circle cx="142.3" cy="261.1" r="1.8"/>
<circle cx="141.0" cy="264.6" r="1.8"/>
<circle cx="140.7" cy="267.3" r="1.8"/>
<circle cx="141.0" cy="268.5" r="1.8"/>
<circle cx="143.8" cy="271.7" r="1.8"/>
<circle cx="144.0" cy="274.9" r="1.8"/>
<circle cx="144.1" cy="275.5" r="1.8"/>
<circle cx="145.8" cy="279.6" r="1.8"/>
<circle cx="145.9" cy="282.2" r="1.8"/>
<circle cx="145.5" cy="283.1" r="1.8"/>
<circle cx="143.6" cy="284.7" r="1.8"/>
<circle cx="141.7" cy="287.1" r="1.8"/>
<circle cx="141.3" cy="287.9" r="1.8"/>
<circle cx="142.1" cy="292.1" r="1.8"/>
<circle cx="141.7" cy="293.6" r="1.8"/>
<circle cx="141.0" cy="295.1" r="1.8"/>
<circle cx="138.9" cy="297.8" r="1.8"/>
<circle cx="140.8" cy="299.7" r="1.8"/>
<circle cx="138.9" cy="301.6" r="1.8"/>
<circle cx="138.7" cy="304.4" r="1.8"/>
<circle cx="140.9" cy="307.9" r="1.8"/>
<circle cx="140.9" cy="308.6" r="1.8"/>
<circle cx="141.5" cy="310.5" r="1.8"/>
<circle cx="143.6" cy="313.1" r="1.8"/>
<circle cx="142.8" cy="313.9" r="1.8"/>
<circle cx="144.8" cy="317.7" r="1.8"/>
<circle cx="145.4" cy="318.6" r="1.8"/>
<circle cx="145.1" cy="322.7" r="1.8"/>
<circle cx="145.8" cy="324.9" r="1.8"/>
<circle cx="145.1" cy="327.2" r="1.8"/>
<circle cx="145.3" cy="327.8" r="1.8"/>
<circle cx="146.0" cy="330.9" r="1.8"/>
<circle cx="148.8" cy="333.3" r="1.8"/>
<circle cx="150.0" cy="335.3" r="1.8"/>
<circle cx="150.1" cy="337.4" r="1.8"/>
<circle cx="151.9" cy="337.4" r="1.8"/>
<circle cx="153.7" cy="339.3" r="1.8"/>
<circle cx="152.7" cy="340.2" r="1.8"/>
<circle cx="154.7" cy="342.4" r="1.8"/>
<circle cx="157.2" cy="346.3" r="1.8"/>
<circle cx="156.9" cy="345.9" r="1.8"/>
<circle cx="159.4" cy="348.1" r="1.8"/>
<circle cx="161.1" cy="351.9" r="1.8"/>
<circle cx="160.8" cy="353.0" r="1.8"/>
<circle cx="163.1" cy="355.3" r="1.8"/>
<circle cx="156.5" cy="356.8" r="1.8"/>
<circle cx="126.3" cy="355.5" r="1.8"/>
<circle cx="126.3" cy="352.9" r="1.8"/>
<circle cx="127.0" cy="349.8" r="1.8"/>
<circle cx="127.9" cy="348.9" r="1.8"/>
<circle cx="127.9" cy="347.1" r="1.8"/>
<circle cx="127.7" cy="345.1" r="1.8"/>
<circle cx="127.4" cy="343.9" r="1.8"/>
<circle cx="127.2" cy="341.7" r="1.8"/>
<circle cx="129.8" cy="338.5" r="1.8"/>
<circle cx="129.9" cy="336.8" r="1.8"/>
<circle cx="129.9" cy="333.6" r="1.8"/>
<circle cx="129.5" cy="331.6" r="1.8"/>
<circle cx="129.6" cy="331.3" r="1.8"/>
<circle cx="129.9" cy="327.7" r="1.8"/>
<circle cx="130.3" cy="326.9" r="1.8"/>
<circle cx="130.6" cy="324.2" r="1.8"/>
<circle cx="130.2" cy="321.4" r="1.8"/>
<circle cx="129.9" cy="319.2" r="1.8"/>
<circle cx="130.5" cy="319.0" r="1.8"/>
<circle cx="131.3" cy="314.7" r="1.8"/>
<circle cx="131.3" cy="312.6" r="1.8"/>
<circle cx="131.7" cy="311.3" r="1.8"/>
<circle cx="132.6" cy="308.7" r="1.8"/>
<circle cx="132.7" cy="306.5" r="1.8"/>
<circle cx="133.2" cy="305.4" r="1.8"/>
<circle cx="130.8" cy="303.5" r="1.8"/>
<circle cx="131.7" cy="299.9" r="1.8"/>
<circle cx="131.6" cy="298.9" r="1.8"/>
<circle cx="132.2" cy="295.9" r="1.8"/>
<circle cx="133.7" cy="293.0" r="1.8"/>
<circle cx="133.6" cy="288.8" r="1.8"/>
<circle cx="135.6" cy="287.8" r="1.8"/>
<circle cx="133.7" cy="286.1" r="1.8"/>
<circle cx="135.9" cy="281.3" r="1.8"/>
<circle cx="133.5" cy="279.9" r="1.8"/>
<circle cx="134.0" cy="277.6" r="1.8"/>
<circle cx="135.1" cy="275.0" r="1.8"/>
<circle cx="135.5" cy="272.6" r="1.8"/>
<circle cx="136.4" cy="269.6" r="1.8"/>
<circle cx="136.1" cy="266.2" r="1.8"/>
<circle cx="135.1" cy="263.0" r="1.8"/>
<circle cx="137.5" cy="260.8" r="1.8"/>
</g>
<g fill="#eb9bfa">
<circle cx="138.1" cy="231.1" r="1.8"/>
<circle cx="170.7" cy="231.1" r="1.8"/>
<circle cx="174.9" cy="231.1" r="1.8"/>
<circle cx="184.0" cy="231.1" r="1.8"/>
<circle cx="139.4" cy="236.8" r="1.8"/>
<circle cx="140.7" cy="237.3" r="1.8"/>
<circle cx="145.7" cy="237.1" r="1.8"/>
<circle cx="175.1" cy="242.1" r="1.8"/>
<circle cx="147.6" cy="243.0" r="1.8"/>
<circle cx="149.3" cy="244.4" r="1.8"/>
<circle cx="137.5" cy="245.3" r="1.8"/>
<circle cx="143.8" cy="248.7" r="1.8"/>
<circle cx="136.2" cy="251.0" r="1.8"/>
<circle cx="139.8" cy="251.6" r="1.8"/>
<circle cx="143.2" cy="252.1" r="1.8"/>
<circle cx="149.3" cy="259.2" r="1.8"/>
<circle cx="140.4" cy="259.2" r="1.8"/>
<circle cx="135.6" cy="262.0" r="1.8"/>
<circle cx="147.0" cy="261.4" r="1.8"/>
<circle cx="142.3" cy="261.1" r="1.8"/>
<circle cx="147.0" cy="267.7" r="1.8"/>
<circle cx="157.4" cy="271.1" r="1.8"/>
<circle cx="156.5" cy="274.0" r="1.8"/>
<circle cx="154.6" cy="278.1" r="1.8"/>
<circle cx="159.7" cy="281.0" r="1.8"/>
<circle cx="188.8" cy="281.9" r="1.8"/>
<circle cx="192.6" cy="285.7" r="1.8"/>
<circle cx="153.7" cy="285.2" r="1.8"/>
<circle cx="161.2" cy="287.3" r="1.8"/>
<circle cx="152.1" cy="296.7" r="1.8"/>
<circle cx="167.3" cy="298.6" r="1.8"/>
<circle cx="184.6" cy="301.5" r="1.8"/>
<circle cx="223.9" cy="301.5" r="1.8"/>
<circle cx="189.7" cy="304.7" r="1.8"/>
<circle cx="135.9" cy="251.0" r="1.8"/>
<circle cx="142.7" cy="251.9" r="1.8"/>
<circle cx="149.0" cy="258.7" r="1.8"/>
<circle cx="147.0" cy="267.4" r="1.8"/>
<circle cx="158.2" cy="270.8" r="1.8"/>
<circle cx="156.7" cy="273.7" r="1.8"/>
<circle cx="154.8" cy="278.0" r="1.8"/>
<circle cx="159.6" cy="280.9" r="1.8"/>
<circle cx="153.3" cy="284.3" r="1.8"/>
<circle cx="155.3" cy="284.8" r="1.8"/>
<circle cx="161.1" cy="287.2" r="1.8"/>
<circle cx="151.9" cy="296.9" r="1.8"/>
<circle cx="167.3" cy="298.3" r="1.8"/>
<circle cx="145.6" cy="300.2" r="1.8"/>
<circle cx="150.9" cy="301.2" r="1.8"/>
<circle cx="153.8" cy="303.6" r="1.8"/>
<circle cx="148.0" cy="302.7" r="1.8"/>
<circle cx="178.0" cy="308.0" r="1.8"/>
<circle cx="152.4" cy="308.9" r="1.8"/>
<circle cx="157.7" cy="308.9" r="1.8"/>
<circle cx="151.9" cy="296.7" r="1.8"/>
<circle cx="167.3" cy="298.4" r="1.8"/>
<circle cx="184.5" cy="301.4" r="1.8"/>
<circle cx="189.2" cy="304.5" r="1.8"/>
<circle cx="223.9" cy="301.4" r="1.8"/>
<circle cx="225.6" cy="316.3" r="1.8"/>
<circle cx="219.9" cy="320.3" r="1.8"/>
<circle cx="215.5" cy="324.5" r="1.8"/>
<circle cx="178.7" cy="308.0" r="1.8"/>
<circle cx="187.4" cy="313.3" r="1.8"/>
<circle cx="175.7" cy="313.7" r="1.8"/>
<circle cx="172.2" cy="317.2" r="1.8"/>
<circle cx="179.0" cy="318.4" r="1.8"/>
<circle cx="176.1" cy="321.5" r="1.8"/>
<circle cx="181.3" cy="322.4" r="1.8"/>
<circle cx="157.7" cy="310.1" r="1.8"/>
<circle cx="156.8" cy="318.0" r="1.8"/>
<circle cx="157.7" cy="325.0" r="1.8"/>
<circle cx="165.5" cy="328.5" r="1.8"/>
<circle cx="169.9" cy="327.7" r="1.8"/>
<circle cx="171.7" cy="332.0" r="1.8"/>
<circle cx="163.8" cy="332.9" r="1.8"/>
<circle cx="160.0" cy="334.7" r="1.8"/>
<circle cx="155.9" cy="338.2" r="1.8"/>
<circle cx="158.2" cy="341.2" r="1.8"/>
<circle cx="162.9" cy="343.4" r="1.8"/>
<circle cx="167.3" cy="342.6" r="1.8"/>
<circle cx="195.3" cy="333.8" r="1.8"/>
<circle cx="203.7" cy="332.0" r="1.8"/>
<circle cx="205.5" cy="333.1" r="1.8"/>
<circle cx="197.1" cy="339.1" r="1.8"/>
<circle cx="194.5" cy="340.5" r="1.8"/>
<circle cx="188.3" cy="340.8" r="1.8"/>
<circle cx="185.7" cy="342.6" r="1.8"/>
<circle cx="186.2" cy="345.7" r="1.8"/>
<circle cx="180.4" cy="348.7" r="1.8"/>
<circle cx="176.1" cy="351.0" r="1.8"/>
<circle cx="171.7" cy="353.1" r="1.8"/>
<circle cx="167.3" cy="355.7" r="1.8"/>
<circle cx="162.9" cy="357.5" r="1.8"/>
<circle cx="159.4" cy="359.2" r="1.8"/>
<circle cx="146.3" cy="300.5" r="1.8"/>
<circle cx="151.5" cy="303.1" r="1.8"/>
<circle cx="154.2" cy="304.0" r="1.8"/>
<circle cx="146.3" cy="303.1" r="1.8"/>
<circle cx="152.4" cy="319.8" r="1.8"/>
<circle cx="153.3" cy="330.3" r="1.8"/>
<circle cx="160.0" cy="350.0" r="1.8"/>
<circle cx="164.0" cy="352.0" r="1.8"/>
<circle cx="168.0" cy="350.0" r="1.8"/>
<circle cx="172.0" cy="348.0" r="1.8"/>
<circle cx="177.0" cy="346.0" r="1.8"/>
<circle cx="182.0" cy="344.0" r="1.8"/>
<circle cx="183.0" cy="340.0" r="1.8"/>
<circle cx="190.0" cy="337.0" r="1.8"/>
<circle cx="200.0" cy="336.0" r="1.8"/>
<circle cx="209.0" cy="330.0" r="1.8"/>
<circle cx="211.0" cy="328.0" r="1.8"/>
<circle cx="161.0" cy="346.0" r="1.8"/>
<circle cx="157.0" cy="353.0" r="1.8"/>
<circle cx="165.0" cy="347.0" r="1.8"/>
<circle cx="170.0" cy="345.0" r="1.8"/>
<circle cx="159.0" cy="337.0" r="1.8"/>
<circle cx="163.0" cy="338.0" r="1.8"/>
<circle cx="150.0" cy="345.0" r="1.8"/>
<circle cx="155.0" cy="348.0" r="1.8"/>
<circle cx="138.1" cy="231.1" r="1.8"/>
<circle cx="139.6" cy="231.1" r="1.8"/>
<circle cx="141.1" cy="231.1" r="1.8"/>
<circle cx="142.6" cy="231.1" r="1.8"/>
<circle cx="144.1" cy="231.1" r="1.8"/>
<circle cx="145.6" cy="231.1" r="1.8"/>
<circle cx="147.1" cy="231.1" r="1.8"/>
<circle cx="148.6" cy="231.1" r="1.8"/>
<circle cx="150.1" cy="231.1" r="1.8"/>
<circle cx="151.6" cy="231.1" r="1.8"/>
<circle cx="153.1" cy="231.1" r="1.8"/>
<circle cx="154.6" cy="231.1" r="1.8"/>
<circle cx="156.1" cy="231.1" r="1.8"/>
<circle cx="157.6" cy="231.1" r="1.8"/>
<circle cx="159.1" cy="231.1" r="1.8"/>
<circle cx="160.6" cy="231.1" r="1.8"/>
<circle cx="162.1" cy="231.1" r="1.8"/>
<circle cx="163.6" cy="231.1" r="1.8"/>
<circle cx="165.1" cy="231.1" r="1.8"/>
<circle cx="166.6" cy="231.1" r="1.8"/>
<circle cx="168.1" cy="231.1" r="1.8"/>
<circle cx="169.6" cy="231.1" r="1.8"/>
</g>
<g fill="#eb9bfa">
<circle cx="157.9" cy="328.7" r="1.8"/>
<circle cx="164.5" cy="332.2" r="1.8"/>
<circle cx="159.0" cy="310.1" r="1.8"/>
<circle cx="177.7" cy="348.1" r="1.8"/>
<circle cx="172.2" cy="340.5" r="1.8"/>
<circle cx="183.9" cy="331.5" r="1.8"/>
<circle cx="165.7" cy="344.1" r="1.8"/>
<circle cx="168.2" cy="352.1" r="1.8"/>
<circle cx="152.8" cy="309.0" r="1.8"/>
<circle cx="171.4" cy="319.2" r="1.8"/>
<circle cx="163.5" cy="331.1" r="1.8"/>
<circle cx="187.6" cy="330.4" r="1.8"/>
<circle cx="166.5" cy="305.0" r="1.8"/>
<circle cx="160.7" cy="342.1" r="1.8"/>
<circle cx="155.9" cy="320.5" r="1.8"/>
<circle cx="161.7" cy="353.5" r="1.8"/>
<circle cx="169.0" cy="327.2" r="1.8"/>
<circle cx="178.2" cy="331.7" r="1.8"/>
<circle cx="174.0" cy="333.2" r="1.8"/>
<circle cx="167.6" cy="339.2" r="1.8"/>
<circle cx="157.9" cy="314.1" r="1.8"/>
<circle cx="166.8" cy="330.8" r="1.8"/>
<circle cx="177.4" cy="324.0" r="1.8"/>
<circle cx="181.3" cy="340.3" r="1.8"/>
<circle cx="147.1" cy="299.6" r="1.8"/>
<circle cx="158.6" cy="323.4" r="1.8"/>
<circle cx="164.2" cy="314.8" r="1.8"/>
<circle cx="164.5" cy="331.7" r="1.8"/>
<circle cx="161.0" cy="318.6" r="1.8"/>
<circle cx="174.5" cy="340.1" r="1.8"/>
<circle cx="161.5" cy="309.4" r="1.8"/>
<circle cx="155.4" cy="322.1" r="1.8"/>
<circle cx="162.1" cy="316.0" r="1.8"/>
<circle cx="162.8" cy="335.0" r="1.8"/>
<circle cx="157.3" cy="303.3" r="1.8"/>
<circle cx="155.2" cy="312.7" r="1.8"/>
<circle cx="186.4" cy="334.5" r="1.8"/>
<circle cx="152.5" cy="313.5" r="1.8"/>
<circle cx="163.3" cy="321.0" r="1.8"/>
<circle cx="167.0" cy="320.6" r="1.8"/>
<circle cx="167.7" cy="353.0" r="1.8"/>
<circle cx="179.1" cy="327.1" r="1.8"/>
<circle cx="160.5" cy="316.5" r="1.8"/>
<circle cx="157.4" cy="300.1" r="1.8"/>
<circle cx="191.2" cy="337.6" r="1.8"/>
<circle cx="154.6" cy="314.0" r="1.8"/>
<circle cx="179.1" cy="327.5" r="1.8"/>
<circle cx="166.7" cy="352.3" r="1.8"/>
<circle cx="158.6" cy="347.7" r="1.8"/>
<circle cx="169.9" cy="342.9" r="1.8"/>
<circle cx="163.6" cy="307.8" r="1.8"/>
<circle cx="172.7" cy="345.0" r="1.8"/>
<circle cx="177.4" cy="347.8" r="1.8"/>
<circle cx="148.5" cy="312.3" r="1.8"/>
<circle cx="159.4" cy="327.6" r="1.8"/>
<circle cx="167.1" cy="324.4" r="1.8"/>
<circle cx="148.7" cy="303.6" r="1.8"/>
<circle cx="152.2" cy="300.1" r="1.8"/>
<circle cx="161.8" cy="314.9" r="1.8"/>
<circle cx="163.6" cy="334.8" r="1.8"/>
<circle cx="175.3" cy="317.7" r="1.8"/>
<circle cx="155.6" cy="315.7" r="1.8"/>
<circle cx="152.2" cy="329.3" r="1.8"/>
<circle cx="150.0" cy="306.7" r="1.8"/>
<circle cx="164.7" cy="332.3" r="1.8"/>
<circle cx="186.1" cy="333.4" r="1.8"/>
<circle cx="167.6" cy="318.3" r="1.8"/>
<circle cx="170.8" cy="338.2" r="1.8"/>
<circle cx="167.0" cy="337.6" r="1.8"/>
<circle cx="169.0" cy="310.7" r="1.8"/>
<circle cx="172.8" cy="337.7" r="1.8"/>
<circle cx="167.3" cy="348.8" r="1.8"/>
<circle cx="159.1" cy="323.8" r="1.8"/>
<circle cx="185.6" cy="336.1" r="1.8"/>
<circle cx="182.7" cy="329.8" r="1.8"/>
<circle cx="150.6" cy="302.0" r="1.8"/>
<circle cx="179.7" cy="346.2" r="1.8"/>
<circle cx="184.4" cy="326.7" r="1.8"/>
<circle cx="149.1" cy="315.5" r="1.8"/>
<circle cx="174.2" cy="345.7" r="1.8"/>
<circle cx="158.1" cy="306.8" r="1.8"/>
<circle cx="158.5" cy="333.0" r="1.8"/>
<circle cx="164.4" cy="319.8" r="1.8"/>
<circle cx="163.5" cy="321.1" r="1.8"/>
<circle cx="180.5" cy="341.4" r="1.8"/>
<circle cx="179.7" cy="327.0" r="1.8"/>
<circle cx="170.2" cy="334.6" r="1.8"/>
<circle cx="168.2" cy="339.1" r="1.8"/>
<circle cx="155.3" cy="312.0" r="1.8"/>
<circle cx="156.0" cy="331.1" r="1.8"/>
<circle cx="161.7" cy="309.9" r="1.8"/>
<circle cx="160.8" cy="338.3" r="1.8"/>
<circle cx="166.7" cy="347.2" r="1.8"/>
<circle cx="170.0" cy="319.0" r="1.8"/>
<circle cx="154.6" cy="317.6" r="1.8"/>
<circle cx="162.1" cy="342.5" r="1.8"/>
<circle cx="170.0" cy="331.9" r="1.8"/>
<circle cx="169.4" cy="346.1" r="1.8"/>
<circle cx="187.1" cy="329.4" r="1.8"/>
<circle cx="170.1" cy="339.2" r="1.8"/>
<circle cx="169.4" cy="309.8" r="1.8"/>
<circle cx="157.7" cy="339.1" r="1.8"/>
<circle cx="155.5" cy="311.5" r="1.8"/>
<circle cx="155.4" cy="338.3" r="1.8"/>
<circle cx="158.8" cy="347.9" r="1.8"/>
<circle cx="161.7" cy="321.4" r="1.8"/>
<circle cx="160.6" cy="317.4" r="1.8"/>
<circle cx="175.0" cy="336.5" r="1.8"/>
<circle cx="167.8" cy="325.2" r="1.8"/>
<circle cx="156.5" cy="331.1" r="1.8"/>
</g>
<g fill="#eb9bfa">
<circle cx="150.5" cy="265.4" r="1.8"/>
<circle cx="152.9" cy="267.1" r="1.8"/>
<circle cx="148.0" cy="275.3" r="1.8"/>
<circle cx="155.1" cy="271.1" r="1.8"/>
<circle cx="149.6" cy="265.5" r="1.8"/>
<circle cx="150.2" cy="292.6" r="1.8"/>
<circle cx="159.4" cy="288.6" r="1.8"/>
<circle cx="151.6" cy="282.7" r="1.8"/>
<circle cx="158.0" cy="290.2" r="1.8"/>
<circle cx="156.1" cy="284.2" r="1.8"/>
</g>
<g fill="#eef79b">
<circle cx="95.4" cy="340.5" r="1.8"/>
<circle cx="104.4" cy="337.4" r="1.8"/>
<circle cx="103.2" cy="319.7" r="1.8"/>
<circle cx="93.2" cy="334.9" r="1.8"/>
<circle cx="99.4" cy="321.3" r="1.8"/>
<circle cx="100.3" cy="320.6" r="1.8"/>
<circle cx="93.1" cy="338.4" r="1.8"/>
<circle cx="83.7" cy="347.1" r="1.8"/>
<circle cx="103.0" cy="325.9" r="1.8"/>
<circle cx="100.9" cy="331.9" r="1.8"/>
<circle cx="99.0" cy="343.9" r="1.8"/>
<circle cx="78.5" cy="342.0" r="1.8"/>
<circle cx="83.5" cy="340.9" r="1.8"/>
<circle cx="92.7" cy="341.6" r="1.8"/>
<circle cx="81.0" cy="340.7" r="1.8"/>
<circle cx="105.6" cy="333.6" r="1.8"/>
<circle cx="94.6" cy="343.3" r="1.8"/>
<circle cx="79.6" cy="346.2" r="1.8"/>
<circle cx="101.5" cy="320.3" r="1.8"/>
<circle cx="95.7" cy="342.0" r="1.8"/>
<circle cx="82.2" cy="343.9" r="1.8"/>
<circle cx="105.3" cy="331.0" r="1.8"/>
</g>
<g fill="#eef79b">
<circle cx="83.8" cy="354.2" r="1.8"/>
<circle cx="74.6" cy="348.6" r="1.8"/>
<circle cx="74.1" cy="353.6" r="1.8"/>
<circle cx="71.2" cy="353.7" r="1.8"/>
<circle cx="68.2" cy="354.0" r="1.8"/>
<circle cx="81.9" cy="350.1" r="1.8"/>
<circle cx="76.1" cy="352.8" r="1.8"/>
<circle cx="65.8" cy="351.5" r="1.8"/>
</g>
<g fill="#000">
<circle cx="112.0" cy="341.2" r="1.8"/>
<circle cx="112.0" cy="345.3" r="1.8"/>
<circle cx="112.0" cy="346.8" r="1.8"/>
<circle cx="112.0" cy="348.3" r="1.8"/>
<circle cx="112.0" cy="349.8" r="1.8"/>
<circle cx="112.5" cy="353.3" r="1.8"/>
<circle cx="113.0" cy="355.5" r="1.8"/>
<circle cx="112.0" cy="357.3" r="1.8"/>
<circle cx="112.0" cy="358.6" r="1.8"/>
</g>
<text x="115.50" y="346.00" font-size="5.4" fill="#222" textLength="20.5" lengthAdjust="spacingAndGlyphs" >Neurod1</text>
<text x="97.10" y="348.60" font-size="5.4" fill="#222" textLength="11.8" lengthAdjust="spacingAndGlyphs" >Pax6</text>
<text x="115.50" y="353.90" font-size="5.4" fill="#222" textLength="11.8" lengthAdjust="spacingAndGlyphs" >Pdx1</text>
<text x="94.90" y="355.60" font-size="5.4" fill="#222" textLength="15.3" lengthAdjust="spacingAndGlyphs" >Foxa2</text>
<text x="115.90" y="359.60" font-size="5.4" fill="#222" textLength="17.1" lengthAdjust="spacingAndGlyphs" >Nkx2-2</text>
<text x="93.00" y="360.90" font-size="5.4" fill="#222" textLength="17.2" lengthAdjust="spacingAndGlyphs" >Nkx6-1</text>
<text x="115.50" y="364.60" font-size="5.4" fill="#555" textLength="15.3" lengthAdjust="spacingAndGlyphs" >Slc2a2</text>
<line x1="23.65" y1="371.6" x2="235" y2="371.6" stroke="#8a8a8a" stroke-width="0.8"/>
<path d="M23.65,226.5 H234.4 Q235,226.5 235,227.1 V376.5 H23.65 Z" fill="none" stroke="#555" stroke-width="1"/>
<path d="M23.65,226.3 V376.8" stroke="#222" stroke-width="1" fill="none"/>
<path d="M18.6,371.60H23.65 M20.9,367.22H23.65 M20.9,362.84H23.65 M20.9,358.46H23.65 M18.6,354.08H23.65 M20.9,349.70H23.65 M20.9,345.32H23.65 M20.9,340.94H23.65 M18.6,336.56H23.65 M20.9,332.18H23.65 M20.9,327.80H23.65 M20.9,323.42H23.65 M18.6,319.04H23.65 M20.9,314.66H23.65 M20.9,310.28H23.65 M20.9,305.90H23.65 M18.6,301.52H23.65 M20.9,297.14H23.65 M20.9,292.76H23.65 M20.9,288.38H23.65 M18.6,284.00H23.65 M20.9,279.62H23.65 M20.9,275.24H23.65 M20.9,270.86H23.65 M18.6,266.48H23.65 M20.9,262.10H23.65 M20.9,257.72H23.65 M20.9,253.34H23.65 M18.6,248.96H23.65 M20.9,244.58H23.65 M20.9,240.20H23.65 M20.9,235.82H23.65 M18.6,231.44H23.65 M23.58,376.5V378.6 M32.40,376.5V380.2 M41.22,376.5V378.6 M50.04,376.5V378.6 M58.86,376.5V378.6 M67.68,376.5V378.6 M76.50,376.5V380.2 M85.32,376.5V378.6 M94.14,376.5V378.6 M102.96,376.5V378.6 M111.78,376.5V378.6 M120.60,376.5V380.2 M129.42,376.5V378.6 M138.24,376.5V378.6 M147.06,376.5V378.6 M155.88,376.5V378.6 M164.70,376.5V380.2 M173.52,376.5V378.6 M182.34,376.5V378.6 M191.16,376.5V378.6 M199.98,376.5V378.6 M208.80,376.5V380.2 M217.62,376.5V378.6 M226.44,376.5V378.6" stroke="#333" stroke-width="0.8" fill="none"/>
<text x="16.60" y="373.70" font-size="6.0" fill="#222" text-anchor="end" >0</text>
<text x="16.60" y="356.18" font-size="6.0" fill="#222" text-anchor="end" >2</text>
<text x="16.60" y="338.66" font-size="6.0" fill="#222" text-anchor="end" >4</text>
<text x="16.60" y="321.14" font-size="6.0" fill="#222" text-anchor="end" >6</text>
<text x="16.60" y="303.62" font-size="6.0" fill="#222" text-anchor="end" >8</text>
<text x="16.60" y="286.10" font-size="6.0" fill="#222" text-anchor="end" >10</text>
<text x="16.60" y="268.58" font-size="6.0" fill="#222" text-anchor="end" >12</text>
<text x="16.60" y="251.06" font-size="6.0" fill="#222" text-anchor="end" >14</text>
<text x="16.60" y="233.54" font-size="6.0" fill="#222" text-anchor="end" >16</text>
<text x="32.40" y="386.30" font-size="6.0" fill="#222" text-anchor="middle" >-10</text>
<text x="76.50" y="386.30" font-size="6.0" fill="#222" text-anchor="middle" >-5</text>
<text x="120.60" y="386.30" font-size="6.0" fill="#222" text-anchor="middle" >0</text>
<text x="164.70" y="386.30" font-size="6.0" fill="#222" text-anchor="middle" >5</text>
<text x="208.80" y="386.30" font-size="6.0" fill="#222" text-anchor="middle" >10</text>
<text x="128.60" y="392.60" font-size="5.6" fill="#222" text-anchor="middle" textLength="40.8" lengthAdjust="spacingAndGlyphs" >log2 fold change</text>
<text transform="translate(5.10,320.30) rotate(-90)" font-size="5.8" fill="#222" textLength="37.2" lengthAdjust="spacingAndGlyphs" >-log10 P-value</text>
<text x="113.60" y="222.00" font-size="5.6" fill="#222" textLength="31.6" lengthAdjust="spacingAndGlyphs" >Volcano Plot</text>
<path d="M274.9,373.5 V237.7 H410.2" stroke="#858585" stroke-width="1.3" fill="none"/>
<path d="M286.90,237.7V235.5 M305.32,237.7V235.5 M323.74,237.7V235.5 M342.16,237.7V235.5 M360.58,237.7V235.5 M379.00,237.7V235.5 M397.42,237.7V235.5 M274.9,237.7H272.6 M274.9,282.6H272.6 M274.9,327.6H272.6 M274.9,372.5H272.6" stroke="#858585" stroke-width="1" fill="none"/>
<text x="270.80" y="240.60" font-size="8.0" fill="#1e1e1e" text-anchor="end" textLength="14.4" lengthAdjust="spacingAndGlyphs" stroke="#1e1e1e" stroke-width="0.3">-1.0</text>
<text x="270.80" y="285.50" font-size="8.0" fill="#1e1e1e" text-anchor="end" textLength="14.4" lengthAdjust="spacingAndGlyphs" stroke="#1e1e1e" stroke-width="0.3">-1.5</text>
<text x="270.80" y="330.50" font-size="8.0" fill="#1e1e1e" text-anchor="end" textLength="14.4" lengthAdjust="spacingAndGlyphs" stroke="#1e1e1e" stroke-width="0.3">-2.0</text>
<text x="270.80" y="375.40" font-size="8.0" fill="#1e1e1e" text-anchor="end" textLength="14.4" lengthAdjust="spacingAndGlyphs" stroke="#1e1e1e" stroke-width="0.3">-2.5</text>
<text transform="translate(288.90,233.60) rotate(-90)" font-size="8.2" fill="#1e1e1e" >Pdx1</text>
<text transform="translate(307.32,233.60) rotate(-90)" font-size="8.2" fill="#1e1e1e" >Nkx6.1</text>
<text transform="translate(325.74,233.60) rotate(-90)" font-size="8.2" fill="#1e1e1e" >Slc2a2</text>
<text transform="translate(344.16,233.60) rotate(-90)" font-size="8.2" fill="#1e1e1e" >Nkx2.2</text>
<text transform="translate(362.58,233.60) rotate(-90)" font-size="8.2" fill="#1e1e1e" >Pax6</text>
<text transform="translate(381.00,233.60) rotate(-90)" font-size="8.2" fill="#1e1e1e" >Neurod1</text>
<text transform="translate(399.42,233.60) rotate(-90)" font-size="8.2" fill="#1e1e1e" >Foxa2</text>
<circle cx="287.00" cy="316.00" r="3.3" fill="#e9f53a" stroke="#4a4a30" stroke-width="0.6"/>
<circle cx="305.60" cy="320.10" r="3.3" fill="#e9f53a" stroke="#4a4a30" stroke-width="0.6"/>
<circle cx="323.80" cy="317.50" r="3.3" fill="#e9f53a" stroke="#4a4a30" stroke-width="0.6"/>
<circle cx="342.40" cy="305.20" r="3.3" fill="#e9f53a" stroke="#4a4a30" stroke-width="0.6"/>
<circle cx="360.80" cy="325.60" r="3.3" fill="#e9f53a" stroke="#4a4a30" stroke-width="0.6"/>
<circle cx="379.10" cy="314.90" r="3.3" fill="#e9f53a" stroke="#4a4a30" stroke-width="0.6"/>
<circle cx="397.60" cy="316.30" r="3.3" fill="#e9f53a" stroke="#4a4a30" stroke-width="0.6"/>
<text x="276.80" y="325.70" font-size="4.7" fill="#a0a0a0" textLength="21.8" lengthAdjust="spacingAndGlyphs" >[1.62E-03]</text>
<text x="295.10" y="315.60" font-size="4.7" fill="#a0a0a0" textLength="21.8" lengthAdjust="spacingAndGlyphs" >[1.32E-02]</text>
<text x="314.10" y="325.90" font-size="4.7" fill="#a0a0a0" textLength="21.8" lengthAdjust="spacingAndGlyphs" >[2.73E-02]</text>
<text x="332.20" y="313.40" font-size="4.7" fill="#a0a0a0" textLength="21.8" lengthAdjust="spacingAndGlyphs" >[9.13E-03]</text>
<text x="351.10" y="333.50" font-size="4.7" fill="#a0a0a0" textLength="21.8" lengthAdjust="spacingAndGlyphs" >[4.10E-04]</text>
<text x="367.80" y="322.70" font-size="4.7" fill="#a0a0a0" textLength="21.8" lengthAdjust="spacingAndGlyphs" >[2.09E-03]</text>
<text x="391.20" y="323.80" font-size="4.7" fill="#a0a0a0" textLength="21.8" lengthAdjust="spacingAndGlyphs" >[3.14E-03]</text>
<text transform="translate(245.60,335.40) rotate(-90)" font-size="10.7" fill="#7a7a7a" textLength="61" lengthAdjust="spacingAndGlyphs" ><tspan font-weight="bold" fill="#6a6a6a">F</tspan>old <tspan font-weight="bold" fill="#6a6a6a">C</tspan>hange</text>
<text transform="translate(252.80,335.40) rotate(-90)" font-size="7.0" fill="#9a9a9a" textLength="58" lengthAdjust="spacingAndGlyphs" >[FC ≥ 1.5; p&lt; 0.05]</text>
<text x="279.00" y="373.00" font-size="9.37" fill="#9a9a9a" textLength="73.5" lengthAdjust="spacingAndGlyphs" >Beta-cell markers</text>
<text x="420.80" y="183.90" font-size="13.8" fill="#111" font-weight="bold" >c</text>
<text x="449.60" y="201.00" font-size="8.6" fill="#eaa145" textLength="10.0" lengthAdjust="spacingAndGlyphs" >[2]</text>
<text x="462.50" y="203.10" font-size="11.3" fill="#6a6a6a" textLength="76.4" lengthAdjust="spacingAndGlyphs" >5DPA vs 3DPA</text>
<text x="447.20" y="232.20" font-size="9.3" fill="#111" textLength="103.2" lengthAdjust="spacingAndGlyphs" stroke="#111" stroke-width="0.08">Top Reactome Pathways</text>
<text x="553.50" y="232.20" font-size="9.3" fill="#555" textLength="123.2" lengthAdjust="spacingAndGlyphs" >with Predicted Activity Pattern</text>
<text x="456.10" y="239.60" font-size="6.4" fill="#b49a3c" textLength="42.5" lengthAdjust="spacingAndGlyphs" >[z ≤ -2 &amp; z≥ 2]</text>
<text x="498.80" y="239.60" font-size="6.4" fill="#a88e2c" textLength="87.8" lengthAdjust="spacingAndGlyphs" stroke="#a88e2c" stroke-width="0.1">[excluding immune singaling]</text>
<line x1="558.1" y1="255.5" x2="673.2" y2="255.5" stroke="#9a9a9a" stroke-width="1"/>
<text x="559.00" y="254.20" font-size="6.4" fill="#444" text-anchor="middle" >0</text>
<text x="573.00" y="254.20" font-size="6.4" fill="#444" text-anchor="middle" >1</text>
<text x="586.50" y="254.20" font-size="6.4" fill="#444" text-anchor="middle" >2</text>
<text x="600.00" y="254.20" font-size="6.4" fill="#444" text-anchor="middle" >3</text>
<text x="615.40" y="254.20" font-size="6.4" fill="#444" text-anchor="middle" >4</text>
<text x="629.00" y="254.20" font-size="6.4" fill="#444" text-anchor="middle" >5</text>
<text x="642.70" y="254.20" font-size="6.4" fill="#444" text-anchor="middle" >6</text>
<text x="656.50" y="254.20" font-size="6.4" fill="#444" text-anchor="middle" >7</text>
<text x="670.20" y="254.20" font-size="6.4" fill="#444" text-anchor="middle" >8</text>
<line x1="577.4" y1="256" x2="577.4" y2="316" stroke="#f0a0e8" stroke-width="0.9"/>
<rect x="558.4" y="257.9" width="108.2" height="4.8" rx="2.4" fill="#f2dec6" stroke="#000" stroke-opacity="0.1" stroke-width="0.6"/>
<rect x="558.4" y="267.5" width="97.4" height="4.8" rx="2.4" fill="#ecc8a0" stroke="#000" stroke-opacity="0.1" stroke-width="0.6"/>
<rect x="558.4" y="277.2" width="94.2" height="4.8" rx="2.4" fill="#ecc8a0" stroke="#000" stroke-opacity="0.1" stroke-width="0.6"/>
<rect x="558.4" y="287.4" width="90.4" height="4.8" rx="2.4" fill="#f0dac0" stroke="#000" stroke-opacity="0.1" stroke-width="0.6"/>
<rect x="558.4" y="297.1" width="85.7" height="4.8" rx="2.4" fill="#f0dac0" stroke="#000" stroke-opacity="0.1" stroke-width="0.6"/>
<rect x="558.4" y="306.9" width="81.5" height="4.8" rx="2.4" fill="#6a5ff8" stroke="#000" stroke-opacity="0.1" stroke-width="0.6"/>
<rect x="558.4" y="316.6" width="77.9" height="4.8" rx="2.4" fill="#f0dcc4" stroke="#000" stroke-opacity="0.1" stroke-width="0.6"/>
<text x="555.80" y="262.30" font-size="8.25" fill="#3a3a3a" text-anchor="end" textLength="117.1" lengthAdjust="spacingAndGlyphs" >Response to elevated cyt. Ca2+</text>
<text x="555.80" y="272.40" font-size="8.25" fill="#3a3a3a" text-anchor="end" textLength="34.9" lengthAdjust="spacingAndGlyphs" >Class A/1</text>
<text x="555.80" y="282.40" font-size="8.25" fill="#3a3a3a" text-anchor="end" textLength="76.6" lengthAdjust="spacingAndGlyphs" >Detoxification of ROS</text>
<text x="555.80" y="292.30" font-size="8.25" fill="#3a3a3a" text-anchor="end" textLength="63.9" lengthAdjust="spacingAndGlyphs" >G-alpha signaling</text>
<text x="555.80" y="301.90" font-size="8.25" fill="#3a3a3a" text-anchor="end" textLength="105.7" lengthAdjust="spacingAndGlyphs" >Arachidonic acid metabolism</text>
<text x="555.80" y="311.00" font-size="8.25" fill="#3a3a3a" text-anchor="end" textLength="119.5" lengthAdjust="spacingAndGlyphs" >Regulation of β-cell development</text>
<text x="555.80" y="320.60" font-size="8.25" fill="#3a3a3a" text-anchor="end" textLength="84.2" lengthAdjust="spacingAndGlyphs" >Formation of Fibrin Clot</text>
<rect x="432.8" y="304.1" width="124.4" height="9.1" rx="2.5" fill="none" stroke="#e87878" stroke-width="0.8"/>
<polygon points="530.5,343.4 536.2,332.9 541.9,343.4" fill="#e8832a"/>
<text x="544.90" y="340.40" font-size="8.2" fill="#333" textLength="32.9" lengthAdjust="spacingAndGlyphs" >activated</text>
<polygon points="585.7,343.4 591.4,332.9 597.1,343.4" fill="#1c0ef2"/>
<text x="598.80" y="340.40" font-size="8.2" fill="#333" textLength="30.2" lengthAdjust="spacingAndGlyphs" >inhibited</text>
<text x="3.00" y="433.40" font-size="13.8" fill="#111" font-weight="bold" >d</text>
<text x="12.30" y="447.80" font-size="8.6" fill="#eaa145" textLength="10.0" lengthAdjust="spacingAndGlyphs" >[3]</text>
<text x="24.90" y="449.30" font-size="11.3" fill="#6a6a6a" textLength="83.4" lengthAdjust="spacingAndGlyphs" >30DPA vs 5DPA</text>
<text x="115.50" y="451.80" font-size="4.6" fill="#222" textLength="25.8" lengthAdjust="spacingAndGlyphs" >Volcano Plot</text>
<polygon points="88.0,589.0 97.0,593.5 110.0,597.0 125.0,599.3 133.0,600.2 139.0,600.6 146.0,600.2 155.0,599.0 165.0,597.0 175.0,594.5 185.0,591.5 195.0,587.5 206.0,583.0 212.0,580.0 206.0,579.5 195.0,582.0 186.0,585.0 175.0,587.0 160.0,588.0 147.0,588.0 142.6,589.0 138.4,596.0 134.5,583.0 125.0,586.0 110.0,587.5 96.0,588.0" fill="#cccccc" />
<polygon points="105.2,461.0 117.5,461.0 118.9,482.0 123.0,496.0 123.6,510.0 125.7,523.0 127.0,532.0 128.5,543.0 130.1,555.0 132.0,567.0 133.8,580.0 134.5,586.0 120.0,587.5 108.0,587.5 95.0,588.0 92.3,586.0 92.3,580.0 93.5,567.0 96.0,555.0 97.0,543.0 100.0,538.0 106.0,533.0 106.5,523.0 105.2,510.0 105.0,496.0 103.8,482.0" fill="#eef79b" />
<g fill="#eef79b">
<circle cx="105.8" cy="462.0" r="1.8"/>
<circle cx="106.4" cy="462.4" r="1.8"/>
<circle cx="108.4" cy="461.5" r="1.8"/>
<circle cx="110.2" cy="461.7" r="1.8"/>
<circle cx="112.4" cy="461.6" r="1.8"/>
<circle cx="116.1" cy="461.7" r="1.8"/>
<circle cx="117.3" cy="462.0" r="1.8"/>
<circle cx="119.0" cy="462.0" r="1.8"/>
<circle cx="117.8" cy="466.5" r="1.8"/>
<circle cx="118.6" cy="467.1" r="1.8"/>
<circle cx="117.5" cy="470.7" r="1.8"/>
<circle cx="117.0" cy="472.2" r="1.8"/>
<circle cx="119.3" cy="472.6" r="1.8"/>
<circle cx="118.0" cy="475.2" r="1.8"/>
<circle cx="118.7" cy="477.4" r="1.8"/>
<circle cx="119.9" cy="481.1" r="1.8"/>
<circle cx="118.4" cy="483.1" r="1.8"/>
<circle cx="118.3" cy="482.9" r="1.8"/>
<circle cx="120.5" cy="486.8" r="1.8"/>
<circle cx="121.6" cy="489.4" r="1.8"/>
<circle cx="122.3" cy="489.3" r="1.8"/>
<circle cx="122.5" cy="493.2" r="1.8"/>
<circle cx="121.3" cy="494.0" r="1.8"/>
<circle cx="122.0" cy="495.0" r="1.8"/>
<circle cx="123.0" cy="498.5" r="1.8"/>
<circle cx="124.5" cy="499.0" r="1.8"/>
<circle cx="123.3" cy="503.4" r="1.8"/>
<circle cx="124.1" cy="504.1" r="1.8"/>
<circle cx="122.7" cy="506.4" r="1.8"/>
<circle cx="122.8" cy="508.4" r="1.8"/>
<circle cx="124.0" cy="509.7" r="1.8"/>
<circle cx="124.8" cy="511.9" r="1.8"/>
<circle cx="124.2" cy="515.3" r="1.8"/>
<circle cx="124.0" cy="515.6" r="1.8"/>
<circle cx="125.2" cy="518.5" r="1.8"/>
<circle cx="126.4" cy="520.1" r="1.8"/>
<circle cx="125.3" cy="521.8" r="1.8"/>
<circle cx="125.9" cy="524.7" r="1.8"/>
<circle cx="126.2" cy="528.2" r="1.8"/>
<circle cx="125.4" cy="531.1" r="1.8"/>
<circle cx="127.6" cy="532.9" r="1.8"/>
<circle cx="127.4" cy="534.4" r="1.8"/>
<circle cx="127.3" cy="536.1" r="1.8"/>
<circle cx="127.1" cy="538.0" r="1.8"/>
<circle cx="127.6" cy="540.3" r="1.8"/>
<circle cx="129.6" cy="543.8" r="1.8"/>
<circle cx="129.2" cy="543.6" r="1.8"/>
<circle cx="128.4" cy="547.1" r="1.8"/>
<circle cx="129.8" cy="548.8" r="1.8"/>
<circle cx="129.9" cy="552.1" r="1.8"/>
<circle cx="129.2" cy="552.7" r="1.8"/>
<circle cx="130.8" cy="554.5" r="1.8"/>
<circle cx="131.0" cy="556.7" r="1.8"/>
<circle cx="129.4" cy="558.9" r="1.8"/>
<circle cx="129.8" cy="561.8" r="1.8"/>
<circle cx="132.3" cy="563.1" r="1.8"/>
<circle cx="132.8" cy="564.2" r="1.8"/>
<circle cx="131.8" cy="566.1" r="1.8"/>
<circle cx="131.0" cy="570.1" r="1.8"/>
<circle cx="131.3" cy="572.5" r="1.8"/>
<circle cx="133.1" cy="574.1" r="1.8"/>
<circle cx="131.9" cy="576.8" r="1.8"/>
<circle cx="134.3" cy="576.7" r="1.8"/>
<circle cx="132.9" cy="579.0" r="1.8"/>
<circle cx="134.0" cy="580.8" r="1.8"/>
<circle cx="135.1" cy="584.0" r="1.8"/>
<circle cx="135.1" cy="585.3" r="1.8"/>
<circle cx="93.0" cy="583.3" r="1.8"/>
<circle cx="91.8" cy="581.3" r="1.8"/>
<circle cx="93.5" cy="580.1" r="1.8"/>
<circle cx="93.7" cy="577.1" r="1.8"/>
<circle cx="93.1" cy="575.9" r="1.8"/>
<circle cx="94.1" cy="573.1" r="1.8"/>
<circle cx="92.3" cy="572.2" r="1.8"/>
<circle cx="94.6" cy="569.2" r="1.8"/>
<circle cx="93.0" cy="565.8" r="1.8"/>
<circle cx="93.8" cy="566.2" r="1.8"/>
<circle cx="93.9" cy="562.9" r="1.8"/>
<circle cx="94.9" cy="560.3" r="1.8"/>
<circle cx="94.1" cy="559.1" r="1.8"/>
<circle cx="96.9" cy="558.0" r="1.8"/>
<circle cx="95.4" cy="555.8" r="1.8"/>
<circle cx="97.1" cy="553.2" r="1.8"/>
<circle cx="95.9" cy="550.1" r="1.8"/>
<circle cx="97.1" cy="549.5" r="1.8"/>
<circle cx="95.9" cy="546.0" r="1.8"/>
<circle cx="95.8" cy="545.9" r="1.8"/>
<circle cx="98.1" cy="543.0" r="1.8"/>
<circle cx="98.8" cy="541.1" r="1.8"/>
<circle cx="99.0" cy="538.1" r="1.8"/>
<circle cx="101.9" cy="537.4" r="1.8"/>
<circle cx="103.1" cy="535.6" r="1.8"/>
<circle cx="105.0" cy="533.3" r="1.8"/>
<circle cx="107.2" cy="529.8" r="1.8"/>
<circle cx="106.2" cy="527.6" r="1.8"/>
<circle cx="106.3" cy="527.0" r="1.8"/>
<circle cx="107.7" cy="525.0" r="1.8"/>
<circle cx="107.6" cy="523.6" r="1.8"/>
<circle cx="107.2" cy="520.4" r="1.8"/>
<circle cx="104.9" cy="519.1" r="1.8"/>
<circle cx="104.8" cy="516.9" r="1.8"/>
<circle cx="104.7" cy="514.6" r="1.8"/>
<circle cx="106.2" cy="513.5" r="1.8"/>
<circle cx="104.4" cy="509.1" r="1.8"/>
<circle cx="105.0" cy="509.3" r="1.8"/>
<circle cx="104.5" cy="505.9" r="1.8"/>
<circle cx="104.8" cy="502.8" r="1.8"/>
<circle cx="105.2" cy="501.5" r="1.8"/>
<circle cx="105.0" cy="500.7" r="1.8"/>
<circle cx="105.5" cy="497.3" r="1.8"/>
<circle cx="105.4" cy="496.1" r="1.8"/>
<circle cx="105.6" cy="492.6" r="1.8"/>
<circle cx="104.0" cy="492.5" r="1.8"/>
<circle cx="104.6" cy="490.0" r="1.8"/>
<circle cx="104.4" cy="488.3" r="1.8"/>
<circle cx="104.8" cy="486.9" r="1.8"/>
<circle cx="104.8" cy="485.1" r="1.8"/>
<circle cx="104.0" cy="481.1" r="1.8"/>
<circle cx="103.6" cy="480.9" r="1.8"/>
<circle cx="104.8" cy="478.1" r="1.8"/>
<circle cx="103.2" cy="474.7" r="1.8"/>
<circle cx="104.8" cy="473.4" r="1.8"/>
<circle cx="103.6" cy="472.8" r="1.8"/>
<circle cx="103.9" cy="470.6" r="1.8"/>
<circle cx="105.1" cy="468.6" r="1.8"/>
<circle cx="105.7" cy="464.4" r="1.8"/>
<circle cx="104.3" cy="464.1" r="1.8"/>
</g>
<g fill="#eef79b">
<circle cx="53.8" cy="460.6" r="1.8"/>
<circle cx="64.7" cy="460.6" r="1.8"/>
<circle cx="70.5" cy="460.6" r="1.8"/>
<circle cx="93.9" cy="468.5" r="1.8"/>
<circle cx="99.7" cy="468.1" r="1.8"/>
<circle cx="102.7" cy="465.2" r="1.8"/>
<circle cx="60.0" cy="482.5" r="1.8"/>
<circle cx="83.9" cy="481.3" r="1.8"/>
<circle cx="96.2" cy="479.5" r="1.8"/>
<circle cx="99.4" cy="483.0" r="1.8"/>
<circle cx="68.7" cy="485.7" r="1.8"/>
<circle cx="73.4" cy="490.4" r="1.8"/>
<circle cx="102.3" cy="493.9" r="1.8"/>
<circle cx="97.1" cy="499.1" r="1.8"/>
<circle cx="100.9" cy="502.3" r="1.8"/>
<circle cx="53.8" cy="507.0" r="1.8"/>
<circle cx="79.6" cy="507.0" r="1.8"/>
<circle cx="85.3" cy="507.9" r="1.8"/>
<circle cx="93.9" cy="504.9" r="1.8"/>
<circle cx="53.8" cy="512.8" r="1.8"/>
<circle cx="95.3" cy="512.8" r="1.8"/>
<circle cx="48.9" cy="518.6" r="1.8"/>
<circle cx="93.9" cy="516.7" r="1.8"/>
<circle cx="97.4" cy="519.3" r="1.8"/>
<circle cx="57.7" cy="524.2" r="1.8"/>
<circle cx="100.2" cy="524.6" r="1.8"/>
<circle cx="64.7" cy="530.7" r="1.8"/>
<circle cx="77.8" cy="534.2" r="1.8"/>
<circle cx="98.5" cy="533.3" r="1.8"/>
<circle cx="104.6" cy="533.3" r="1.8"/>
<circle cx="57.7" cy="525.0" r="1.8"/>
<circle cx="64.7" cy="530.8" r="1.8"/>
<circle cx="77.8" cy="535.0" r="1.8"/>
<circle cx="67.3" cy="537.3" r="1.8"/>
<circle cx="48.0" cy="538.5" r="1.8"/>
<circle cx="88.3" cy="536.7" r="1.8"/>
<circle cx="83.9" cy="541.1" r="1.8"/>
<circle cx="98.5" cy="533.4" r="1.8"/>
<circle cx="104.6" cy="532.9" r="1.8"/>
<circle cx="21.8" cy="545.7" r="1.8"/>
<circle cx="27.9" cy="550.4" r="1.8"/>
<circle cx="34.9" cy="553.9" r="1.8"/>
<circle cx="44.0" cy="551.6" r="1.8"/>
<circle cx="71.7" cy="551.8" r="1.8"/>
<circle cx="80.4" cy="550.4" r="1.8"/>
<circle cx="84.8" cy="555.1" r="1.8"/>
<circle cx="87.4" cy="550.8" r="1.8"/>
<circle cx="90.1" cy="551.6" r="1.8"/>
<circle cx="93.6" cy="548.7" r="1.8"/>
<circle cx="41.4" cy="559.5" r="1.8"/>
<circle cx="45.9" cy="562.7" r="1.8"/>
<circle cx="52.4" cy="565.6" r="1.8"/>
<circle cx="55.9" cy="570.0" r="1.8"/>
<circle cx="63.8" cy="570.9" r="1.8"/>
<circle cx="67.3" cy="574.1" r="1.8"/>
<circle cx="72.6" cy="576.7" r="1.8"/>
<circle cx="79.6" cy="559.2" r="1.8"/>
<circle cx="81.7" cy="562.7" r="1.8"/>
<circle cx="85.7" cy="567.6" r="1.8"/>
<circle cx="88.3" cy="566.2" r="1.8"/>
<circle cx="91.0" cy="573.2" r="1.8"/>
<circle cx="77.8" cy="580.2" r="1.8"/>
<circle cx="83.1" cy="582.8" r="1.8"/>
<circle cx="89.2" cy="586.3" r="1.8"/>
<circle cx="91.8" cy="589.0" r="1.8"/>
<circle cx="30.0" cy="551.5" r="1.8"/>
<circle cx="38.0" cy="556.5" r="1.8"/>
<circle cx="49.0" cy="564.0" r="1.8"/>
<circle cx="59.0" cy="570.5" r="1.8"/>
<circle cx="61.0" cy="572.0" r="1.8"/>
<circle cx="70.0" cy="575.5" r="1.8"/>
<circle cx="75.0" cy="578.5" r="1.8"/>
<circle cx="80.0" cy="581.5" r="1.8"/>
<circle cx="86.0" cy="584.5" r="1.8"/>
<circle cx="93.0" cy="579.0" r="1.8"/>
<circle cx="92.0" cy="583.0" r="1.8"/>
<circle cx="94.0" cy="570.0" r="1.8"/>
<circle cx="95.0" cy="560.0" r="1.8"/>
<circle cx="92.0" cy="562.0" r="1.8"/>
<circle cx="95.0" cy="552.0" r="1.8"/>
<circle cx="90.0" cy="577.0" r="1.8"/>
<circle cx="76.9" cy="460.6" r="1.8"/>
<circle cx="78.5" cy="460.6" r="1.8"/>
<circle cx="80.0" cy="460.6" r="1.8"/>
<circle cx="81.6" cy="460.6" r="1.8"/>
<circle cx="83.1" cy="460.6" r="1.8"/>
<circle cx="84.7" cy="460.6" r="1.8"/>
<circle cx="86.2" cy="460.6" r="1.8"/>
<circle cx="87.8" cy="460.6" r="1.8"/>
<circle cx="89.3" cy="460.6" r="1.8"/>
<circle cx="90.9" cy="460.6" r="1.8"/>
<circle cx="92.4" cy="460.6" r="1.8"/>
<circle cx="94.0" cy="460.6" r="1.8"/>
<circle cx="95.5" cy="460.6" r="1.8"/>
<circle cx="97.1" cy="460.6" r="1.8"/>
<circle cx="98.6" cy="460.6" r="1.8"/>
<circle cx="100.2" cy="460.6" r="1.8"/>
<circle cx="101.7" cy="460.6" r="1.8"/>
<circle cx="103.2" cy="460.6" r="1.8"/>
<circle cx="104.8" cy="460.6" r="1.8"/>
<circle cx="106.4" cy="460.6" r="1.8"/>
<circle cx="107.9" cy="460.6" r="1.8"/>
<circle cx="109.5" cy="460.6" r="1.8"/>
<circle cx="111.0" cy="460.6" r="1.8"/>
<circle cx="112.6" cy="460.6" r="1.8"/>
<circle cx="114.1" cy="460.6" r="1.8"/>
<circle cx="115.7" cy="460.6" r="1.8"/>
<circle cx="117.2" cy="460.6" r="1.8"/>
<circle cx="118.8" cy="460.6" r="1.8"/>
</g>
<polygon points="153.5,518.0 157.5,518.0 160.4,533.8 167.1,550.7 173.9,567.7 184.0,584.6 186.0,588.0 165.0,589.0 143.5,589.0 143.5,584.6 146.8,567.7 150.2,550.7 151.9,533.8" fill="#eb9bfa" />
<g fill="#eb9bfa">
<circle cx="153.2" cy="519.2" r="1.8"/>
<circle cx="156.5" cy="517.2" r="1.8"/>
<circle cx="158.5" cy="518.4" r="1.8"/>
<circle cx="156.6" cy="521.2" r="1.8"/>
<circle cx="157.5" cy="521.4" r="1.8"/>
<circle cx="158.4" cy="524.2" r="1.8"/>
<circle cx="157.9" cy="526.4" r="1.8"/>
<circle cx="160.2" cy="527.9" r="1.8"/>
<circle cx="160.5" cy="530.2" r="1.8"/>
<circle cx="160.9" cy="530.9" r="1.8"/>
<circle cx="160.0" cy="533.7" r="1.8"/>
<circle cx="160.0" cy="537.0" r="1.8"/>
<circle cx="162.3" cy="536.4" r="1.8"/>
<circle cx="162.9" cy="539.2" r="1.8"/>
<circle cx="162.5" cy="540.4" r="1.8"/>
<circle cx="164.0" cy="542.0" r="1.8"/>
<circle cx="165.0" cy="545.1" r="1.8"/>
<circle cx="164.6" cy="548.0" r="1.8"/>
<circle cx="165.1" cy="547.9" r="1.8"/>
<circle cx="168.0" cy="549.9" r="1.8"/>
<circle cx="167.6" cy="552.8" r="1.8"/>
<circle cx="168.4" cy="554.5" r="1.8"/>
<circle cx="169.4" cy="556.3" r="1.8"/>
<circle cx="168.9" cy="559.1" r="1.8"/>
<circle cx="170.3" cy="558.9" r="1.8"/>
<circle cx="171.4" cy="562.9" r="1.8"/>
<circle cx="172.7" cy="563.8" r="1.8"/>
<circle cx="173.1" cy="565.0" r="1.8"/>
<circle cx="174.2" cy="567.3" r="1.8"/>
<circle cx="173.8" cy="568.5" r="1.8"/>
<circle cx="175.0" cy="572.0" r="1.8"/>
<circle cx="178.3" cy="574.0" r="1.8"/>
<circle cx="177.6" cy="574.2" r="1.8"/>
<circle cx="180.8" cy="576.7" r="1.8"/>
<circle cx="179.7" cy="579.2" r="1.8"/>
<circle cx="182.1" cy="581.0" r="1.8"/>
<circle cx="182.7" cy="582.2" r="1.8"/>
<circle cx="184.0" cy="584.5" r="1.8"/>
<circle cx="143.0" cy="585.9" r="1.8"/>
<circle cx="144.3" cy="583.9" r="1.8"/>
<circle cx="144.5" cy="583.0" r="1.8"/>
<circle cx="143.7" cy="580.3" r="1.8"/>
<circle cx="144.1" cy="579.1" r="1.8"/>
<circle cx="144.5" cy="575.5" r="1.8"/>
<circle cx="146.6" cy="573.4" r="1.8"/>
<circle cx="145.8" cy="572.0" r="1.8"/>
<circle cx="145.0" cy="569.2" r="1.8"/>
<circle cx="147.5" cy="569.0" r="1.8"/>
<circle cx="146.8" cy="565.5" r="1.8"/>
<circle cx="146.4" cy="563.4" r="1.8"/>
<circle cx="147.7" cy="561.3" r="1.8"/>
<circle cx="147.9" cy="558.7" r="1.8"/>
<circle cx="150.1" cy="557.9" r="1.8"/>
<circle cx="149.0" cy="553.7" r="1.8"/>
<circle cx="148.5" cy="551.7" r="1.8"/>
<circle cx="149.2" cy="550.9" r="1.8"/>
<circle cx="150.5" cy="547.6" r="1.8"/>
<circle cx="151.7" cy="547.0" r="1.8"/>
<circle cx="151.4" cy="545.5" r="1.8"/>
<circle cx="150.5" cy="543.4" r="1.8"/>
<circle cx="152.6" cy="541.3" r="1.8"/>
<circle cx="150.2" cy="539.0" r="1.8"/>
<circle cx="153.0" cy="534.8" r="1.8"/>
<circle cx="152.9" cy="534.7" r="1.8"/>
<circle cx="150.8" cy="532.1" r="1.8"/>
<circle cx="153.1" cy="530.0" r="1.8"/>
<circle cx="151.3" cy="528.3" r="1.8"/>
<circle cx="151.6" cy="523.6" r="1.8"/>
<circle cx="154.3" cy="522.5" r="1.8"/>
<circle cx="152.4" cy="520.0" r="1.8"/>
</g>
<g fill="#eb9bfa">
<circle cx="199.1" cy="460.6" r="1.8"/>
<circle cx="210.6" cy="460.6" r="1.8"/>
<circle cx="213.8" cy="460.6" r="1.8"/>
<circle cx="226.0" cy="460.6" r="1.8"/>
<circle cx="163.2" cy="487.6" r="1.8"/>
<circle cx="220.9" cy="499.2" r="1.8"/>
<circle cx="157.6" cy="508.8" r="1.8"/>
<circle cx="178.7" cy="509.3" r="1.8"/>
<circle cx="193.4" cy="514.4" r="1.8"/>
<circle cx="156.2" cy="514.9" r="1.8"/>
<circle cx="158.4" cy="516.8" r="1.8"/>
<circle cx="209.2" cy="519.6" r="1.8"/>
<circle cx="156.2" cy="520.8" r="1.8"/>
<circle cx="191.0" cy="524.5" r="1.8"/>
<circle cx="154.9" cy="523.3" r="1.8"/>
<circle cx="158.9" cy="525.3" r="1.8"/>
<circle cx="154.1" cy="527.3" r="1.8"/>
<circle cx="159.7" cy="530.8" r="1.8"/>
<circle cx="154.1" cy="530.5" r="1.8"/>
<circle cx="187.0" cy="532.4" r="1.8"/>
<circle cx="181.4" cy="533.7" r="1.8"/>
<circle cx="191.0" cy="525.5" r="1.8"/>
<circle cx="187.0" cy="532.5" r="1.8"/>
<circle cx="181.4" cy="534.6" r="1.8"/>
<circle cx="166.6" cy="540.3" r="1.8"/>
<circle cx="173.0" cy="544.0" r="1.8"/>
<circle cx="178.2" cy="543.1" r="1.8"/>
<circle cx="184.9" cy="543.1" r="1.8"/>
<circle cx="195.5" cy="541.9" r="1.8"/>
<circle cx="225.2" cy="538.7" r="1.8"/>
<circle cx="167.3" cy="548.0" r="1.8"/>
<circle cx="175.4" cy="547.5" r="1.8"/>
<circle cx="169.3" cy="552.3" r="1.8"/>
<circle cx="176.6" cy="557.1" r="1.8"/>
<circle cx="189.4" cy="556.0" r="1.8"/>
<circle cx="193.4" cy="553.1" r="1.8"/>
<circle cx="206.6" cy="552.6" r="1.8"/>
<circle cx="213.5" cy="549.6" r="1.8"/>
<circle cx="212.7" cy="554.7" r="1.8"/>
<circle cx="191.8" cy="560.3" r="1.8"/>
<circle cx="187.8" cy="563.5" r="1.8"/>
<circle cx="192.3" cy="564.3" r="1.8"/>
<circle cx="186.2" cy="567.6" r="1.8"/>
<circle cx="190.2" cy="569.6" r="1.8"/>
<circle cx="186.2" cy="572.4" r="1.8"/>
<circle cx="228.8" cy="566.4" r="1.8"/>
<circle cx="222.3" cy="570.8" r="1.8"/>
<circle cx="207.1" cy="578.8" r="1.8"/>
<circle cx="205.5" cy="580.4" r="1.8"/>
<circle cx="200.3" cy="581.2" r="1.8"/>
<circle cx="199.1" cy="583.1" r="1.8"/>
<circle cx="195.8" cy="584.7" r="1.8"/>
<circle cx="191.8" cy="585.7" r="1.8"/>
<circle cx="187.8" cy="587.6" r="1.8"/>
<circle cx="170.0" cy="560.0" r="1.8"/>
<circle cx="175.0" cy="565.0" r="1.8"/>
<circle cx="180.0" cy="570.0" r="1.8"/>
<circle cx="182.0" cy="575.0" r="1.8"/>
<circle cx="172.0" cy="555.0" r="1.8"/>
<circle cx="178.0" cy="560.0" r="1.8"/>
<circle cx="183.0" cy="580.0" r="1.8"/>
<circle cx="188.0" cy="582.0" r="1.8"/>
<circle cx="203.0" cy="582.0" r="1.8"/>
<circle cx="196.0" cy="580.0" r="1.8"/>
<circle cx="170.0" cy="545.0" r="1.8"/>
<circle cx="165.0" cy="545.0" r="1.8"/>
<circle cx="181.0" cy="566.0" r="1.8"/>
<circle cx="184.0" cy="562.0" r="1.8"/>
</g>
<g fill="#eef79b">
<circle cx="75.4" cy="562.2" r="1.8"/>
<circle cx="77.9" cy="563.7" r="1.8"/>
<circle cx="83.3" cy="574.8" r="1.8"/>
<circle cx="86.2" cy="534.3" r="1.8"/>
<circle cx="84.4" cy="565.2" r="1.8"/>
<circle cx="78.8" cy="535.2" r="1.8"/>
<circle cx="78.4" cy="566.6" r="1.8"/>
<circle cx="77.5" cy="567.8" r="1.8"/>
<circle cx="75.6" cy="547.0" r="1.8"/>
<circle cx="92.8" cy="570.2" r="1.8"/>
<circle cx="69.2" cy="544.4" r="1.8"/>
<circle cx="89.5" cy="553.6" r="1.8"/>
<circle cx="93.1" cy="552.9" r="1.8"/>
<circle cx="58.3" cy="566.0" r="1.8"/>
<circle cx="90.0" cy="546.6" r="1.8"/>
<circle cx="90.9" cy="541.6" r="1.8"/>
<circle cx="80.2" cy="556.2" r="1.8"/>
<circle cx="60.9" cy="566.8" r="1.8"/>
<circle cx="93.4" cy="566.7" r="1.8"/>
<circle cx="64.6" cy="545.9" r="1.8"/>
<circle cx="89.8" cy="549.8" r="1.8"/>
<circle cx="59.1" cy="563.5" r="1.8"/>
<circle cx="65.9" cy="564.5" r="1.8"/>
<circle cx="71.7" cy="556.5" r="1.8"/>
<circle cx="80.9" cy="578.8" r="1.8"/>
<circle cx="63.2" cy="540.3" r="1.8"/>
<circle cx="66.2" cy="542.2" r="1.8"/>
<circle cx="88.3" cy="582.8" r="1.8"/>
<circle cx="94.7" cy="564.6" r="1.8"/>
<circle cx="74.0" cy="537.6" r="1.8"/>
<circle cx="65.7" cy="570.0" r="1.8"/>
<circle cx="81.8" cy="547.8" r="1.8"/>
<circle cx="80.2" cy="578.0" r="1.8"/>
<circle cx="82.6" cy="547.1" r="1.8"/>
<circle cx="96.3" cy="543.0" r="1.8"/>
<circle cx="80.7" cy="539.1" r="1.8"/>
<circle cx="86.1" cy="563.6" r="1.8"/>
<circle cx="76.7" cy="571.4" r="1.8"/>
<circle cx="88.2" cy="580.6" r="1.8"/>
<circle cx="88.2" cy="570.0" r="1.8"/>
<circle cx="90.7" cy="581.4" r="1.8"/>
<circle cx="70.8" cy="569.0" r="1.8"/>
<circle cx="73.8" cy="574.7" r="1.8"/>
<circle cx="93.9" cy="562.9" r="1.8"/>
<circle cx="83.1" cy="552.6" r="1.8"/>
<circle cx="81.2" cy="564.9" r="1.8"/>
<circle cx="58.6" cy="566.5" r="1.8"/>
<circle cx="87.8" cy="553.0" r="1.8"/>
<circle cx="88.1" cy="563.4" r="1.8"/>
<circle cx="56.3" cy="564.5" r="1.8"/>
<circle cx="76.6" cy="544.4" r="1.8"/>
<circle cx="86.4" cy="558.9" r="1.8"/>
<circle cx="68.5" cy="568.6" r="1.8"/>
<circle cx="64.1" cy="541.2" r="1.8"/>
<circle cx="69.7" cy="568.0" r="1.8"/>
<circle cx="91.3" cy="581.4" r="1.8"/>
<circle cx="94.6" cy="552.8" r="1.8"/>
<circle cx="81.2" cy="549.1" r="1.8"/>
<circle cx="92.7" cy="577.8" r="1.8"/>
<circle cx="87.0" cy="583.3" r="1.8"/>
<circle cx="67.5" cy="541.1" r="1.8"/>
<circle cx="75.3" cy="546.9" r="1.8"/>
<circle cx="83.2" cy="558.7" r="1.8"/>
<circle cx="94.3" cy="534.2" r="1.8"/>
<circle cx="86.9" cy="562.8" r="1.8"/>
<circle cx="92.3" cy="544.8" r="1.8"/>
<circle cx="83.3" cy="556.1" r="1.8"/>
<circle cx="83.3" cy="567.4" r="1.8"/>
<circle cx="91.3" cy="583.8" r="1.8"/>
<circle cx="85.8" cy="542.8" r="1.8"/>
<circle cx="76.4" cy="541.6" r="1.8"/>
<circle cx="87.1" cy="541.7" r="1.8"/>
<circle cx="67.3" cy="550.7" r="1.8"/>
<circle cx="86.4" cy="560.1" r="1.8"/>
<circle cx="82.7" cy="572.8" r="1.8"/>
<circle cx="72.7" cy="574.8" r="1.8"/>
<circle cx="95.8" cy="536.7" r="1.8"/>
<circle cx="83.1" cy="581.1" r="1.8"/>
<circle cx="72.0" cy="562.7" r="1.8"/>
<circle cx="84.3" cy="543.1" r="1.8"/>
<circle cx="87.5" cy="576.2" r="1.8"/>
<circle cx="83.9" cy="570.8" r="1.8"/>
<circle cx="79.2" cy="574.7" r="1.8"/>
<circle cx="93.5" cy="550.8" r="1.8"/>
<circle cx="79.8" cy="573.5" r="1.8"/>
</g>
<g fill="#eef79b">
<circle cx="20.5" cy="544.7" r="1.8"/>
<circle cx="23.0" cy="547.1" r="1.8"/>
<circle cx="23.8" cy="546.5" r="1.8"/>
<circle cx="25.5" cy="549.1" r="1.8"/>
<circle cx="26.7" cy="550.0" r="1.8"/>
<circle cx="29.6" cy="549.4" r="1.8"/>
<circle cx="30.7" cy="551.1" r="1.8"/>
<circle cx="31.8" cy="553.4" r="1.8"/>
<circle cx="32.5" cy="551.8" r="1.8"/>
<circle cx="36.1" cy="553.7" r="1.8"/>
<circle cx="35.6" cy="554.5" r="1.8"/>
<circle cx="37.4" cy="557.0" r="1.8"/>
<circle cx="38.3" cy="556.0" r="1.8"/>
<circle cx="40.7" cy="557.8" r="1.8"/>
<circle cx="43.0" cy="559.4" r="1.8"/>
<circle cx="42.8" cy="558.7" r="1.8"/>
<circle cx="45.4" cy="561.6" r="1.8"/>
<circle cx="44.7" cy="561.9" r="1.8"/>
<circle cx="48.2" cy="562.6" r="1.8"/>
<circle cx="47.9" cy="563.9" r="1.8"/>
<circle cx="50.6" cy="563.2" r="1.8"/>
<circle cx="51.9" cy="564.2" r="1.8"/>
<circle cx="51.8" cy="565.4" r="1.8"/>
<circle cx="54.1" cy="566.4" r="1.8"/>
<circle cx="56.4" cy="568.5" r="1.8"/>
<circle cx="58.7" cy="569.7" r="1.8"/>
<circle cx="60.3" cy="570.2" r="1.8"/>
<circle cx="60.0" cy="569.5" r="1.8"/>
<circle cx="62.3" cy="571.3" r="1.8"/>
<circle cx="64.0" cy="571.0" r="1.8"/>
<circle cx="64.2" cy="574.1" r="1.8"/>
<circle cx="66.8" cy="574.3" r="1.8"/>
<circle cx="66.9" cy="574.3" r="1.8"/>
<circle cx="70.6" cy="575.8" r="1.8"/>
<circle cx="72.3" cy="575.4" r="1.8"/>
<circle cx="72.4" cy="577.8" r="1.8"/>
<circle cx="73.9" cy="578.6" r="1.8"/>
<circle cx="75.7" cy="577.6" r="1.8"/>
<circle cx="76.0" cy="580.7" r="1.8"/>
<circle cx="77.5" cy="579.4" r="1.8"/>
<circle cx="79.6" cy="581.6" r="1.8"/>
<circle cx="82.4" cy="581.9" r="1.8"/>
<circle cx="83.0" cy="583.6" r="1.8"/>
<circle cx="83.9" cy="583.5" r="1.8"/>
<circle cx="86.3" cy="585.1" r="1.8"/>
<circle cx="86.3" cy="584.7" r="1.8"/>
<circle cx="88.1" cy="587.2" r="1.8"/>
<circle cx="91.0" cy="588.8" r="1.8"/>
<circle cx="92.7" cy="587.9" r="1.8"/>
<circle cx="91.3" cy="588.9" r="1.8"/>
<circle cx="88.9" cy="585.6" r="1.8"/>
<circle cx="87.5" cy="585.4" r="1.8"/>
<circle cx="85.7" cy="584.0" r="1.8"/>
<circle cx="84.1" cy="585.3" r="1.8"/>
<circle cx="82.6" cy="583.8" r="1.8"/>
<circle cx="81.6" cy="581.8" r="1.8"/>
<circle cx="81.8" cy="581.3" r="1.8"/>
<circle cx="78.8" cy="580.8" r="1.8"/>
<circle cx="78.7" cy="580.2" r="1.8"/>
<circle cx="77.8" cy="579.0" r="1.8"/>
<circle cx="75.5" cy="579.0" r="1.8"/>
<circle cx="74.0" cy="578.2" r="1.8"/>
<circle cx="72.6" cy="575.8" r="1.8"/>
<circle cx="70.4" cy="576.6" r="1.8"/>
<circle cx="70.6" cy="576.2" r="1.8"/>
<circle cx="69.1" cy="574.4" r="1.8"/>
<circle cx="66.4" cy="574.3" r="1.8"/>
<circle cx="64.9" cy="572.4" r="1.8"/>
<circle cx="63.5" cy="571.4" r="1.8"/>
<circle cx="62.6" cy="570.7" r="1.8"/>
<circle cx="62.3" cy="570.1" r="1.8"/>
<circle cx="59.7" cy="569.9" r="1.8"/>
<circle cx="59.6" cy="569.2" r="1.8"/>
<circle cx="56.4" cy="567.8" r="1.8"/>
<circle cx="57.2" cy="566.1" r="1.8"/>
<circle cx="54.1" cy="566.7" r="1.8"/>
<circle cx="53.1" cy="564.7" r="1.8"/>
<circle cx="52.9" cy="563.9" r="1.8"/>
<circle cx="49.9" cy="562.6" r="1.8"/>
<circle cx="48.9" cy="563.0" r="1.8"/>
<circle cx="47.6" cy="562.3" r="1.8"/>
<circle cx="45.4" cy="560.2" r="1.8"/>
<circle cx="45.5" cy="559.9" r="1.8"/>
<circle cx="43.8" cy="560.3" r="1.8"/>
<circle cx="41.9" cy="557.5" r="1.8"/>
<circle cx="39.9" cy="557.4" r="1.8"/>
<circle cx="39.2" cy="556.5" r="1.8"/>
<circle cx="37.0" cy="554.5" r="1.8"/>
<circle cx="36.6" cy="555.6" r="1.8"/>
<circle cx="35.0" cy="555.2" r="1.8"/>
<circle cx="34.4" cy="553.0" r="1.8"/>
<circle cx="33.5" cy="551.7" r="1.8"/>
<circle cx="31.7" cy="552.5" r="1.8"/>
<circle cx="30.2" cy="550.3" r="1.8"/>
<circle cx="27.6" cy="550.1" r="1.8"/>
<circle cx="26.5" cy="548.7" r="1.8"/>
<circle cx="26.0" cy="549.4" r="1.8"/>
<circle cx="25.0" cy="547.4" r="1.8"/>
<circle cx="24.1" cy="546.0" r="1.8"/>
</g>
<g fill="#eef79b">
<circle cx="99.7" cy="516.0" r="1.8"/>
<circle cx="102.0" cy="480.0" r="1.8"/>
<circle cx="97.3" cy="526.7" r="1.8"/>
<circle cx="102.3" cy="512.1" r="1.8"/>
<circle cx="100.7" cy="516.3" r="1.8"/>
<circle cx="95.9" cy="533.4" r="1.8"/>
<circle cx="94.9" cy="518.1" r="1.8"/>
<circle cx="104.1" cy="471.3" r="1.8"/>
<circle cx="101.5" cy="481.4" r="1.8"/>
<circle cx="96.1" cy="527.1" r="1.8"/>
<circle cx="98.8" cy="499.3" r="1.8"/>
<circle cx="101.2" cy="503.4" r="1.8"/>
<circle cx="102.3" cy="517.2" r="1.8"/>
<circle cx="98.4" cy="505.8" r="1.8"/>
<circle cx="103.7" cy="505.0" r="1.8"/>
<circle cx="99.2" cy="506.3" r="1.8"/>
<circle cx="98.7" cy="524.0" r="1.8"/>
<circle cx="96.1" cy="518.7" r="1.8"/>
</g>
<g fill="#eb9bfa">
<circle cx="189.9" cy="577.3" r="1.8"/>
<circle cx="173.9" cy="553.8" r="1.8"/>
<circle cx="172.7" cy="553.6" r="1.8"/>
<circle cx="185.0" cy="553.1" r="1.8"/>
<circle cx="177.4" cy="561.4" r="1.8"/>
<circle cx="194.8" cy="568.1" r="1.8"/>
<circle cx="193.9" cy="575.6" r="1.8"/>
<circle cx="194.4" cy="573.3" r="1.8"/>
<circle cx="183.6" cy="573.7" r="1.8"/>
<circle cx="186.1" cy="561.3" r="1.8"/>
<circle cx="179.7" cy="561.3" r="1.8"/>
<circle cx="178.0" cy="549.5" r="1.8"/>
<circle cx="194.2" cy="575.3" r="1.8"/>
<circle cx="185.7" cy="573.4" r="1.8"/>
<circle cx="182.2" cy="551.7" r="1.8"/>
<circle cx="174.5" cy="564.9" r="1.8"/>
<circle cx="176.1" cy="562.5" r="1.8"/>
<circle cx="187.4" cy="560.0" r="1.8"/>
<circle cx="175.5" cy="554.0" r="1.8"/>
<circle cx="174.2" cy="558.9" r="1.8"/>
<circle cx="191.0" cy="580.5" r="1.8"/>
<circle cx="193.8" cy="576.8" r="1.8"/>
<circle cx="188.4" cy="551.1" r="1.8"/>
<circle cx="196.4" cy="575.5" r="1.8"/>
<circle cx="180.0" cy="572.2" r="1.8"/>
<circle cx="187.3" cy="572.5" r="1.8"/>
<circle cx="186.6" cy="567.5" r="1.8"/>
<circle cx="179.5" cy="572.7" r="1.8"/>
<circle cx="178.9" cy="556.2" r="1.8"/>
<circle cx="171.6" cy="553.6" r="1.8"/>
<circle cx="185.8" cy="565.6" r="1.8"/>
<circle cx="179.0" cy="548.5" r="1.8"/>
<circle cx="171.9" cy="556.5" r="1.8"/>
<circle cx="176.6" cy="567.7" r="1.8"/>
<circle cx="184.5" cy="563.0" r="1.8"/>
</g>
<g fill="#eb9bfa">
<circle cx="193.0" cy="586.2" r="1.8"/>
<circle cx="195.1" cy="587.3" r="1.8"/>
<circle cx="192.0" cy="587.7" r="1.8"/>
<circle cx="191.0" cy="587.6" r="1.8"/>
<circle cx="204.8" cy="579.1" r="1.8"/>
<circle cx="197.1" cy="586.2" r="1.8"/>
</g>
<g fill="#000">
<circle cx="152.5" cy="552.1" r="1.7"/>
<circle cx="151.2" cy="558.9" r="1.7"/>
<circle cx="161.0" cy="558.9" r="1.7"/>
<circle cx="151.5" cy="563.5" r="1.7"/>
<circle cx="153.0" cy="564.5" r="1.7"/>
<circle cx="152.5" cy="567.0" r="1.7"/>
<circle cx="152.5" cy="569.5" r="1.7"/>
<circle cx="152.5" cy="572.0" r="1.7"/>
<circle cx="150.8" cy="574.5" r="1.7"/>
<circle cx="151.8" cy="578.5" r="1.7"/>
<circle cx="152.5" cy="580.0" r="1.7"/>
</g>
<text x="138.20" y="557.90" font-size="4.5" fill="#222" textLength="12.3" lengthAdjust="spacingAndGlyphs" >Foxa2</text>
<text x="140.00" y="561.40" font-size="4.5" fill="#222" textLength="10" lengthAdjust="spacingAndGlyphs" >Pdx1</text>
<text x="134.30" y="564.60" font-size="4.5" fill="#222" textLength="13.7" lengthAdjust="spacingAndGlyphs" >Nkx2.2</text>
<text x="132.00" y="569.10" font-size="4.5" fill="#222" textLength="16" lengthAdjust="spacingAndGlyphs" >Neurod1</text>
<text x="136.00" y="572.40" font-size="4.5" fill="#222" textLength="12" lengthAdjust="spacingAndGlyphs" >Nkx6.1</text>
<text x="135.00" y="576.10" font-size="4.5" fill="#222" textLength="13" lengthAdjust="spacingAndGlyphs" >Slc2a2</text>
<text x="137.00" y="580.10" font-size="4.5" fill="#222" textLength="10" lengthAdjust="spacingAndGlyphs" >Mafa</text>
<text x="142.00" y="585.10" font-size="4.5" fill="#222" textLength="8" lengthAdjust="spacingAndGlyphs" >Ins1</text>
<text x="163.40" y="564.90" font-size="4.5" fill="#222" textLength="6.6" lengthAdjust="spacingAndGlyphs" >Sst</text>
<text x="156.00" y="570.40" font-size="4.5" fill="#222" textLength="10" lengthAdjust="spacingAndGlyphs" >Pax6</text>
<text x="156.00" y="577.60" font-size="4.5" fill="#222" textLength="8" lengthAdjust="spacingAndGlyphs" >Gcg</text>
<text x="155.00" y="585.30" font-size="4.5" fill="#222" textLength="7.8" lengthAdjust="spacingAndGlyphs" >Ins2</text>
<line x1="20.3" y1="600.7" x2="238.3" y2="600.7" stroke="#8a8a8a" stroke-width="0.8"/>
<path d="M20.3,456.5 H237.7 Q238.3,456.5 238.3,457.1 V605.5 H20.3 Z" fill="none" stroke="#555" stroke-width="1"/>
<path d="M20.3,456.3 V605.8" stroke="#222" stroke-width="1" fill="none"/>
<path d="M15.0,600.70H20.3 M17.9,596.31H20.3 M17.9,591.91H20.3 M17.9,587.52H20.3 M15.0,583.12H20.3 M17.9,578.73H20.3 M17.9,574.33H20.3 M17.9,569.94H20.3 M15.0,565.54H20.3 M17.9,561.15H20.3 M17.9,556.75H20.3 M17.9,552.36H20.3 M15.0,547.96H20.3 M17.9,543.57H20.3 M17.9,539.17H20.3 M17.9,534.78H20.3 M15.0,530.38H20.3 M17.9,525.99H20.3 M17.9,521.59H20.3 M17.9,517.20H20.3 M15.0,512.80H20.3 M17.9,508.41H20.3 M17.9,504.01H20.3 M17.9,499.62H20.3 M15.0,495.22H20.3 M17.9,490.83H20.3 M17.9,486.43H20.3 M17.9,482.04H20.3 M15.0,477.64H20.3 M17.9,473.25H20.3 M17.9,468.85H20.3 M17.9,464.46H20.3 M15.0,460.06H20.3 M20.28,605.5V607.3 M30.19,605.5V607.3 M40.10,605.5V608.8 M50.01,605.5V607.3 M59.92,605.5V607.3 M69.83,605.5V607.3 M79.74,605.5V607.3 M89.65,605.5V608.8 M99.56,605.5V607.3 M109.47,605.5V607.3 M119.38,605.5V607.3 M129.29,605.5V607.3 M139.20,605.5V608.8 M149.11,605.5V607.3 M159.02,605.5V607.3 M168.93,605.5V607.3 M178.84,605.5V607.3 M188.75,605.5V608.8 M198.66,605.5V607.3 M208.57,605.5V607.3 M218.48,605.5V607.3 M228.39,605.5V607.3 M238.30,605.5V608.8" stroke="#333" stroke-width="0.8" fill="none"/>
<text x="13.30" y="602.35" font-size="4.7" fill="#222" text-anchor="end" >0</text>
<text x="13.30" y="584.77" font-size="4.7" fill="#222" text-anchor="end" >2</text>
<text x="13.30" y="567.19" font-size="4.7" fill="#222" text-anchor="end" >4</text>
<text x="13.30" y="549.61" font-size="4.7" fill="#222" text-anchor="end" >6</text>
<text x="13.30" y="532.03" font-size="4.7" fill="#222" text-anchor="end" >8</text>
<text x="13.30" y="514.45" font-size="4.7" fill="#222" text-anchor="end" >10</text>
<text x="13.30" y="496.87" font-size="4.7" fill="#222" text-anchor="end" >12</text>
<text x="13.30" y="479.29" font-size="4.7" fill="#222" text-anchor="end" >14</text>
<text x="13.30" y="461.71" font-size="4.7" fill="#222" text-anchor="end" >16</text>
<text x="40.10" y="614.40" font-size="4.6" fill="#222" text-anchor="middle" >-10</text>
<text x="89.65" y="614.40" font-size="4.6" fill="#222" text-anchor="middle" >-5</text>
<text x="139.20" y="614.40" font-size="4.6" fill="#222" text-anchor="middle" >0</text>
<text x="188.75" y="614.40" font-size="4.6" fill="#222" text-anchor="middle" >5</text>
<text x="238.30" y="614.40" font-size="4.6" fill="#222" text-anchor="middle" >10</text>
<text x="128.00" y="619.60" font-size="4.6" fill="#222" text-anchor="middle" textLength="34" lengthAdjust="spacingAndGlyphs" >log2 fold change</text>
<text transform="translate(4.10,547.00) rotate(-90)" font-size="4.7" fill="#222" textLength="30.1" lengthAdjust="spacingAndGlyphs" >-log10 P-value</text>
<path d="M281.2,447.6 V583 H429.8" stroke="#5a5a5a" stroke-width="1.1" fill="none"/>
<path d="M289.6,583V585.2 M302.2,583V585.2 M332.0,583V585.2 M344.6,583V585.2 M357.4,583V585.2 M370.1,583V585.2 M383.0,583V585.2 M395.7,583V585.2 M408.5,583V585.2 M421.2,583V585.2 M281.2,448.1H279 M281.2,482.2H279 M281.2,515.6H279 M281.2,549.2H279 M281.2,582.8H279" stroke="#5a5a5a" stroke-width="1" fill="none"/>
<text x="277.60" y="451.00" font-size="8.2" fill="#1e1e1e" text-anchor="end" textLength="11.6" lengthAdjust="spacingAndGlyphs" stroke="#1e1e1e" stroke-width="0.2">3.0</text>
<text x="277.60" y="485.10" font-size="8.2" fill="#1e1e1e" text-anchor="end" textLength="11.6" lengthAdjust="spacingAndGlyphs" stroke="#1e1e1e" stroke-width="0.2">2.5</text>
<text x="277.60" y="518.50" font-size="8.2" fill="#1e1e1e" text-anchor="end" textLength="11.6" lengthAdjust="spacingAndGlyphs" stroke="#1e1e1e" stroke-width="0.2">2.0</text>
<text x="277.60" y="552.10" font-size="8.2" fill="#1e1e1e" text-anchor="end" textLength="11.6" lengthAdjust="spacingAndGlyphs" stroke="#1e1e1e" stroke-width="0.2">1.5</text>
<text x="277.60" y="585.70" font-size="8.2" fill="#1e1e1e" text-anchor="end" textLength="11.6" lengthAdjust="spacingAndGlyphs" stroke="#1e1e1e" stroke-width="0.2">1.0</text>
<text transform="translate(292.60,587.40) rotate(-90)" font-size="8.2" fill="#1e1e1e" text-anchor="end" >Ins2</text>
<text transform="translate(305.20,587.40) rotate(-90)" font-size="8.2" fill="#1e1e1e" text-anchor="end" >Ins1</text>
<text transform="translate(335.00,587.40) rotate(-90)" font-size="8.2" fill="#1e1e1e" text-anchor="end" >Pdx1</text>
<text transform="translate(347.60,587.40) rotate(-90)" font-size="8.2" fill="#1e1e1e" text-anchor="end" >Nkx6.1</text>
<text transform="translate(360.40,587.40) rotate(-90)" font-size="8.2" fill="#1e1e1e" text-anchor="end" >Mafa</text>
<text transform="translate(373.10,587.40) rotate(-90)" font-size="8.2" fill="#1e1e1e" text-anchor="end" >Slc2a2</text>
<text transform="translate(386.00,587.40) rotate(-90)" font-size="8.2" fill="#1e1e1e" text-anchor="end" >Nkx2.2</text>
<text transform="translate(398.70,587.40) rotate(-90)" font-size="8.2" fill="#1e1e1e" text-anchor="end" >Pax6</text>
<text transform="translate(411.50,587.40) rotate(-90)" font-size="8.2" fill="#1e1e1e" text-anchor="end" >Neurod1</text>
<text transform="translate(424.20,587.40) rotate(-90)" font-size="8.2" fill="#1e1e1e" text-anchor="end" >Foxa2</text>
<circle cx="289.50" cy="486.20" r="3.3" fill="#f53ce6" stroke="#3a2a3a" stroke-width="0.6"/>
<circle cx="302.30" cy="488.80" r="3.3" fill="#f53ce6" stroke="#3a2a3a" stroke-width="0.6"/>
<circle cx="332.10" cy="500.40" r="3.3" fill="#f53ce6" stroke="#3a2a3a" stroke-width="0.6"/>
<circle cx="344.90" cy="476.60" r="3.3" fill="#f53ce6" stroke="#3a2a3a" stroke-width="0.6"/>
<circle cx="357.40" cy="500.40" r="3.3" fill="#f53ce6" stroke="#3a2a3a" stroke-width="0.6"/>
<circle cx="370.40" cy="494.10" r="3.3" fill="#f53ce6" stroke="#3a2a3a" stroke-width="0.6"/>
<circle cx="383.30" cy="492.30" r="3.3" fill="#f53ce6" stroke="#3a2a3a" stroke-width="0.6"/>
<circle cx="395.70" cy="469.40" r="3.3" fill="#f53ce6" stroke="#3a2a3a" stroke-width="0.6"/>
<circle cx="408.50" cy="488.70" r="3.3" fill="#f53ce6" stroke="#3a2a3a" stroke-width="0.6"/>
<circle cx="421.20" cy="477.00" r="3.3" fill="#f53ce6" stroke="#3a2a3a" stroke-width="0.6"/>
<text x="282.20" y="481.20" font-size="4.7" fill="#a0a0a0" textLength="21.8" lengthAdjust="spacingAndGlyphs" >[4.09E-03]</text>
<text x="292.20" y="496.90" font-size="4.7" fill="#a0a0a0" textLength="21.8" lengthAdjust="spacingAndGlyphs" >[3.56E-03]</text>
<text x="322.00" y="496.10" font-size="4.7" fill="#a0a0a0" textLength="21.8" lengthAdjust="spacingAndGlyphs" >[6.66E-05]</text>
<text x="335.10" y="472.10" font-size="4.7" fill="#a0a0a0" textLength="21.2" lengthAdjust="spacingAndGlyphs" >[1.66E-04]</text>
<text x="349.00" y="495.80" font-size="4.7" fill="#a0a0a0" textLength="17.0" lengthAdjust="spacingAndGlyphs" >[1.13E-03]</text>
<text x="362.40" y="502.40" font-size="4.7" fill="#a0a0a0" textLength="21.6" lengthAdjust="spacingAndGlyphs" >[3.34E-03]</text>
<text x="372.00" y="487.90" font-size="4.7" fill="#a0a0a0" textLength="22.0" lengthAdjust="spacingAndGlyphs" >[1.98E-05]</text>
<text x="385.20" y="464.80" font-size="4.7" fill="#a0a0a0" textLength="21.0" lengthAdjust="spacingAndGlyphs" >[7.94E-05]</text>
<text x="399.00" y="485.00" font-size="4.7" fill="#a0a0a0" textLength="18.0" lengthAdjust="spacingAndGlyphs" >[1.02E-04]</text>
<text x="412.00" y="472.90" font-size="4.7" fill="#a0a0a0" textLength="21.8" lengthAdjust="spacingAndGlyphs" >[3.14E-05]</text>
<text transform="translate(253.10,540.50) rotate(-90)" font-size="10.7" fill="#7a7a7a" textLength="61.2" lengthAdjust="spacingAndGlyphs" ><tspan font-weight="bold" fill="#6a6a6a">F</tspan>old <tspan font-weight="bold" fill="#6a6a6a">C</tspan>hange</text>
<text transform="translate(260.30,540.50) rotate(-90)" font-size="6.9" fill="#9a9a9a" textLength="56.8" lengthAdjust="spacingAndGlyphs" >[FC ≥ 1.5; p&lt; 0.05]</text>
<text x="283.80" y="454.20" font-size="9.37" fill="#9a9a9a" textLength="73.5" lengthAdjust="spacingAndGlyphs" >Beta-cell markers</text>
<text x="428.30" y="432.30" font-size="13.8" fill="#111" font-weight="bold" >e</text>
<text x="448.20" y="447.40" font-size="8.6" fill="#eaa145" textLength="10.0" lengthAdjust="spacingAndGlyphs" >[3]</text>
<text x="460.90" y="448.60" font-size="11.3" fill="#6a6a6a" textLength="83.1" lengthAdjust="spacingAndGlyphs" >30DPA vs 5DPA</text>
<text x="459.20" y="483.10" font-size="9.3" fill="#111" textLength="102.8" lengthAdjust="spacingAndGlyphs" stroke="#111" stroke-width="0.08">Top Reactome Pathways</text>
<text x="564.30" y="483.10" font-size="9.3" fill="#555" textLength="82.0" lengthAdjust="spacingAndGlyphs" >Predicted Activated</text>
<text x="465.80" y="491.40" font-size="6.4" fill="#b49a3c" textLength="42.5" lengthAdjust="spacingAndGlyphs" >[z ≤ -2 &amp; z≥ 2]</text>
<text x="508.50" y="491.40" font-size="6.4" fill="#a88e2c" textLength="87.8" lengthAdjust="spacingAndGlyphs" stroke="#a88e2c" stroke-width="0.1">[excluding immune singaling]</text>
<line x1="570" y1="507.5" x2="685" y2="507.5" stroke="#9a9a9a" stroke-width="1"/>
<text x="571.30" y="505.60" font-size="6.2" fill="#444" text-anchor="middle" >0</text>
<text x="588.30" y="505.60" font-size="6.2" fill="#444" text-anchor="middle" >3</text>
<text x="603.80" y="505.60" font-size="6.2" fill="#444" text-anchor="middle" >6</text>
<text x="621.70" y="505.60" font-size="6.2" fill="#444" text-anchor="middle" >9</text>
<text x="639.40" y="505.60" font-size="6.2" fill="#444" text-anchor="middle" >12</text>
<text x="656.70" y="505.60" font-size="6.2" fill="#444" text-anchor="middle" >15</text>
<text x="674.00" y="505.60" font-size="6.2" fill="#444" text-anchor="middle" >18</text>
<line x1="578.6" y1="507.5" x2="578.6" y2="537" stroke="#f0a0e8" stroke-width="0.9"/>
<rect x="571" y="509.70" width="47.8" height="4.8" rx="2.4" fill="#e2a064" stroke="#000" stroke-opacity="0.08" stroke-width="0.6"/>
<rect x="571" y="519.25" width="30.3" height="4.8" rx="2.4" fill="#e48732" stroke="#000" stroke-opacity="0.08" stroke-width="0.6"/>
<rect x="571" y="528.75" width="30.3" height="4.8" rx="2.4" fill="#e8b482" stroke="#000" stroke-opacity="0.08" stroke-width="0.6"/>
<text x="568.00" y="513.60" font-size="8.2" fill="#3a3a3a" text-anchor="end" textLength="119.4" lengthAdjust="spacingAndGlyphs" >Integration of energy metabolism</text>
<text x="568.00" y="523.90" font-size="8.2" fill="#3a3a3a" text-anchor="end" textLength="72.7" lengthAdjust="spacingAndGlyphs" >Potassium channels</text>
<text x="568.00" y="533.70" font-size="8.2" fill="#3a3a3a" text-anchor="end" textLength="131.9" lengthAdjust="spacingAndGlyphs" >Regulation of beta-cell development</text>
<rect x="433.3" y="526.7" width="136.4" height="9.4" rx="3" fill="none" stroke="#e87878" stroke-width="0.8"/>
<polygon points="621.1,532.7 627,522.4 632.9,532.7" fill="#e8832a"/>
<text x="633.50" y="529.90" font-size="8.2" fill="#333" textLength="32.9" lengthAdjust="spacingAndGlyphs" >activated</text>
<polygon points="621.1,547 627,537 632.9,547" fill="#1c0ef2"/>
<text x="634.70" y="544.70" font-size="8.2" fill="#333" textLength="30.4" lengthAdjust="spacingAndGlyphs" >inhibited</text>
</svg></body></html>
